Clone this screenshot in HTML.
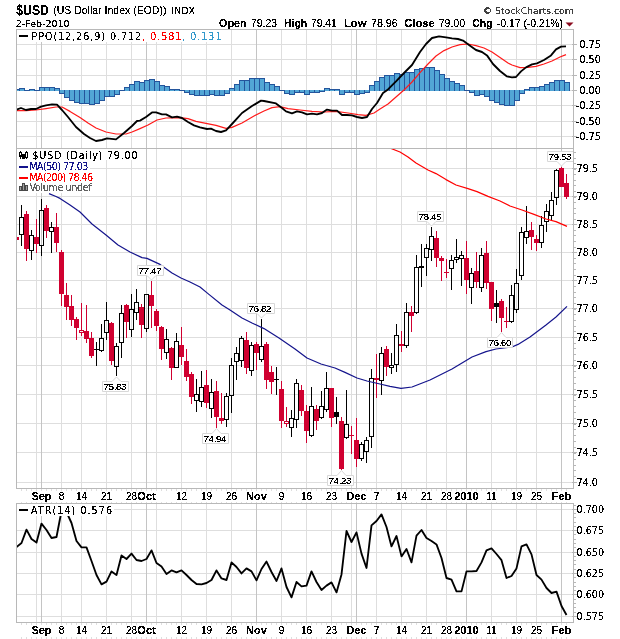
<!DOCTYPE html>
<html><head><meta charset="utf-8"><style>html,body{margin:0;padding:0;background:#fff;width:620px;height:639px;overflow:hidden}svg{display:block}</style></head>
<body><svg width="620" height="639" viewBox="0 0 620 639" shape-rendering="crispEdges">
<defs><clipPath id="c1"><rect x="17" y="30" width="556" height="118"/></clipPath><clipPath id="c2"><rect x="17" y="149" width="556" height="339"/></clipPath><clipPath id="c3"><rect x="17" y="504" width="556" height="118"/></clipPath><filter id="crisp" x="-5%" y="-20%" width="110%" height="140%"><feComponentTransfer><feFuncA type="discrete" tableValues="0 0 0 0 1 1 1 1 1 1"/></feComponentTransfer></filter></defs>
<rect width="620" height="639" fill="#fff"/>
<text filter="url(#crisp)" x="16.2" y="14.8" font-family="Liberation Sans, Arial, sans-serif" font-size="14.2" font-weight="bold" textLength="32.8" lengthAdjust="spacingAndGlyphs">$USD</text>
<text filter="url(#crisp)" x="53.2" y="14.3" font-family="Liberation Sans, Arial, sans-serif" font-size="10.5">(US Dollar Index (EOD))</text>
<text filter="url(#crisp)" x="171.4" y="14.3" font-family="DejaVu Sans, Verdana, sans-serif" font-size="8.5" textLength="23.6" lengthAdjust="spacingAndGlyphs">INDX</text>
<text filter="url(#crisp)" x="15.8" y="26.6" font-family="DejaVu Sans, Verdana, sans-serif" font-size="9" textLength="53.8" lengthAdjust="spacingAndGlyphs">2-Feb-2010</text>
<text filter="url(#crisp)" x="482.8" y="13.7" font-family="DejaVu Sans, Verdana, sans-serif" font-size="9.2" fill="#404040" textLength="91" lengthAdjust="spacingAndGlyphs">© StockCharts.com</text>
<text filter="url(#crisp)" x="218.9" y="26.5" font-family="Liberation Sans, Arial, sans-serif" font-size="11" font-weight="bold" textLength="27.9" lengthAdjust="spacingAndGlyphs">Open</text>
<text filter="url(#crisp)" x="251.1" y="26.5" font-family="Liberation Sans, Arial, sans-serif" font-size="10.5" textLength="25.8" lengthAdjust="spacingAndGlyphs">79.23</text>
<text filter="url(#crisp)" x="283.9" y="26.5" font-family="Liberation Sans, Arial, sans-serif" font-size="11" font-weight="bold" textLength="23.4" lengthAdjust="spacingAndGlyphs">High</text>
<text filter="url(#crisp)" x="311" y="26.5" font-family="Liberation Sans, Arial, sans-serif" font-size="10.5" textLength="25.8" lengthAdjust="spacingAndGlyphs">79.41</text>
<text filter="url(#crisp)" x="343.9" y="26.5" font-family="Liberation Sans, Arial, sans-serif" font-size="11" font-weight="bold" textLength="22.6" lengthAdjust="spacingAndGlyphs">Low</text>
<text filter="url(#crisp)" x="371" y="26.5" font-family="Liberation Sans, Arial, sans-serif" font-size="10.5" textLength="26.6" lengthAdjust="spacingAndGlyphs">78.96</text>
<text filter="url(#crisp)" x="404.2" y="26.5" font-family="Liberation Sans, Arial, sans-serif" font-size="11" font-weight="bold" textLength="30.6" lengthAdjust="spacingAndGlyphs">Close</text>
<text filter="url(#crisp)" x="438.7" y="26.5" font-family="Liberation Sans, Arial, sans-serif" font-size="10.5" textLength="26.3" lengthAdjust="spacingAndGlyphs">79.00</text>
<text filter="url(#crisp)" x="472.3" y="26.5" font-family="Liberation Sans, Arial, sans-serif" font-size="11" font-weight="bold" textLength="20.3" lengthAdjust="spacingAndGlyphs">Chg</text>
<text filter="url(#crisp)" x="497" y="26.5" font-family="Liberation Sans, Arial, sans-serif" font-size="10.5" textLength="66.0" lengthAdjust="spacingAndGlyphs">-0.17 (-0.21%)</text>
<path d="M565.5 22.5 h8 l-4 4 z" fill="#8b0a1e" shape-rendering="auto"/>
<line x1="16.5" x2="573.5" y1="44.5" y2="44.5" stroke="#dedede"/>
<line x1="16.5" x2="573.5" y1="59.5" y2="59.5" stroke="#dedede"/>
<line x1="16.5" x2="573.5" y1="75.5" y2="75.5" stroke="#dedede"/>
<line x1="16.5" x2="573.5" y1="90.5" y2="90.5" stroke="#dedede"/>
<line x1="16.5" x2="573.5" y1="105.5" y2="105.5" stroke="#dedede"/>
<line x1="16.5" x2="573.5" y1="121.5" y2="121.5" stroke="#dedede"/>
<line x1="16.5" x2="573.5" y1="136.5" y2="136.5" stroke="#dedede"/>
<line x1="36.5" x2="36.5" y1="29.5" y2="148.5" stroke="#dedede"/>
<line x1="61.5" x2="61.5" y1="29.5" y2="148.5" stroke="#dedede"/>
<line x1="81.5" x2="81.5" y1="29.5" y2="148.5" stroke="#dedede"/>
<line x1="106.5" x2="106.5" y1="29.5" y2="148.5" stroke="#dedede"/>
<line x1="131.5" x2="131.5" y1="29.5" y2="148.5" stroke="#dedede"/>
<line x1="156.5" x2="156.5" y1="29.5" y2="148.5" stroke="#dedede"/>
<line x1="181.5" x2="181.5" y1="29.5" y2="148.5" stroke="#dedede"/>
<line x1="206.5" x2="206.5" y1="29.5" y2="148.5" stroke="#dedede"/>
<line x1="231.5" x2="231.5" y1="29.5" y2="148.5" stroke="#dedede"/>
<line x1="281.5" x2="281.5" y1="29.5" y2="148.5" stroke="#dedede"/>
<line x1="306.5" x2="306.5" y1="29.5" y2="148.5" stroke="#dedede"/>
<line x1="331.5" x2="331.5" y1="29.5" y2="148.5" stroke="#dedede"/>
<line x1="351.5" x2="351.5" y1="29.5" y2="148.5" stroke="#dedede"/>
<line x1="376.5" x2="376.5" y1="29.5" y2="148.5" stroke="#dedede"/>
<line x1="401.5" x2="401.5" y1="29.5" y2="148.5" stroke="#dedede"/>
<line x1="426.5" x2="426.5" y1="29.5" y2="148.5" stroke="#dedede"/>
<line x1="446.5" x2="446.5" y1="29.5" y2="148.5" stroke="#dedede"/>
<line x1="491.5" x2="491.5" y1="29.5" y2="148.5" stroke="#dedede"/>
<line x1="516.5" x2="516.5" y1="29.5" y2="148.5" stroke="#dedede"/>
<line x1="536.5" x2="536.5" y1="29.5" y2="148.5" stroke="#dedede"/>
<line x1="41.5" x2="41.5" y1="29.5" y2="148.5" stroke="#c4c4c4"/>
<line x1="146.5" x2="146.5" y1="29.5" y2="148.5" stroke="#c4c4c4"/>
<line x1="256.5" x2="256.5" y1="29.5" y2="148.5" stroke="#c4c4c4"/>
<line x1="356.5" x2="356.5" y1="29.5" y2="148.5" stroke="#c4c4c4"/>
<line x1="466.5" x2="466.5" y1="29.5" y2="148.5" stroke="#c4c4c4"/>
<line x1="561.5" x2="561.5" y1="29.5" y2="148.5" stroke="#c4c4c4"/>
<line x1="16.5" x2="573.5" y1="482.5" y2="482.5" stroke="#dedede"/>
<line x1="16.5" x2="573.5" y1="452.5" y2="452.5" stroke="#dedede"/>
<line x1="16.5" x2="573.5" y1="423.5" y2="423.5" stroke="#dedede"/>
<line x1="16.5" x2="573.5" y1="394.5" y2="394.5" stroke="#dedede"/>
<line x1="16.5" x2="573.5" y1="365.5" y2="365.5" stroke="#dedede"/>
<line x1="16.5" x2="573.5" y1="337.5" y2="337.5" stroke="#dedede"/>
<line x1="16.5" x2="573.5" y1="308.5" y2="308.5" stroke="#dedede"/>
<line x1="16.5" x2="573.5" y1="280.5" y2="280.5" stroke="#dedede"/>
<line x1="16.5" x2="573.5" y1="252.5" y2="252.5" stroke="#dedede"/>
<line x1="16.5" x2="573.5" y1="224.5" y2="224.5" stroke="#dedede"/>
<line x1="16.5" x2="573.5" y1="196.5" y2="196.5" stroke="#dedede"/>
<line x1="16.5" x2="573.5" y1="168.5" y2="168.5" stroke="#dedede"/>
<line x1="36.5" x2="36.5" y1="148.5" y2="488.5" stroke="#dedede"/>
<line x1="61.5" x2="61.5" y1="148.5" y2="488.5" stroke="#dedede"/>
<line x1="81.5" x2="81.5" y1="148.5" y2="488.5" stroke="#dedede"/>
<line x1="106.5" x2="106.5" y1="148.5" y2="488.5" stroke="#dedede"/>
<line x1="131.5" x2="131.5" y1="148.5" y2="488.5" stroke="#dedede"/>
<line x1="156.5" x2="156.5" y1="148.5" y2="488.5" stroke="#dedede"/>
<line x1="181.5" x2="181.5" y1="148.5" y2="488.5" stroke="#dedede"/>
<line x1="206.5" x2="206.5" y1="148.5" y2="488.5" stroke="#dedede"/>
<line x1="231.5" x2="231.5" y1="148.5" y2="488.5" stroke="#dedede"/>
<line x1="281.5" x2="281.5" y1="148.5" y2="488.5" stroke="#dedede"/>
<line x1="306.5" x2="306.5" y1="148.5" y2="488.5" stroke="#dedede"/>
<line x1="331.5" x2="331.5" y1="148.5" y2="488.5" stroke="#dedede"/>
<line x1="351.5" x2="351.5" y1="148.5" y2="488.5" stroke="#dedede"/>
<line x1="376.5" x2="376.5" y1="148.5" y2="488.5" stroke="#dedede"/>
<line x1="401.5" x2="401.5" y1="148.5" y2="488.5" stroke="#dedede"/>
<line x1="426.5" x2="426.5" y1="148.5" y2="488.5" stroke="#dedede"/>
<line x1="446.5" x2="446.5" y1="148.5" y2="488.5" stroke="#dedede"/>
<line x1="491.5" x2="491.5" y1="148.5" y2="488.5" stroke="#dedede"/>
<line x1="516.5" x2="516.5" y1="148.5" y2="488.5" stroke="#dedede"/>
<line x1="536.5" x2="536.5" y1="148.5" y2="488.5" stroke="#dedede"/>
<line x1="41.5" x2="41.5" y1="148.5" y2="488.5" stroke="#c4c4c4"/>
<line x1="146.5" x2="146.5" y1="148.5" y2="488.5" stroke="#c4c4c4"/>
<line x1="256.5" x2="256.5" y1="148.5" y2="488.5" stroke="#c4c4c4"/>
<line x1="356.5" x2="356.5" y1="148.5" y2="488.5" stroke="#c4c4c4"/>
<line x1="466.5" x2="466.5" y1="148.5" y2="488.5" stroke="#c4c4c4"/>
<line x1="561.5" x2="561.5" y1="148.5" y2="488.5" stroke="#c4c4c4"/>
<line x1="16.5" x2="573.5" y1="616.5" y2="616.5" stroke="#dedede"/>
<line x1="16.5" x2="573.5" y1="594.5" y2="594.5" stroke="#dedede"/>
<line x1="16.5" x2="573.5" y1="573.5" y2="573.5" stroke="#dedede"/>
<line x1="16.5" x2="573.5" y1="552.5" y2="552.5" stroke="#dedede"/>
<line x1="16.5" x2="573.5" y1="530.5" y2="530.5" stroke="#dedede"/>
<line x1="16.5" x2="573.5" y1="509.5" y2="509.5" stroke="#dedede"/>
<line x1="36.5" x2="36.5" y1="503.5" y2="622.5" stroke="#dedede"/>
<line x1="61.5" x2="61.5" y1="503.5" y2="622.5" stroke="#dedede"/>
<line x1="81.5" x2="81.5" y1="503.5" y2="622.5" stroke="#dedede"/>
<line x1="106.5" x2="106.5" y1="503.5" y2="622.5" stroke="#dedede"/>
<line x1="131.5" x2="131.5" y1="503.5" y2="622.5" stroke="#dedede"/>
<line x1="156.5" x2="156.5" y1="503.5" y2="622.5" stroke="#dedede"/>
<line x1="181.5" x2="181.5" y1="503.5" y2="622.5" stroke="#dedede"/>
<line x1="206.5" x2="206.5" y1="503.5" y2="622.5" stroke="#dedede"/>
<line x1="231.5" x2="231.5" y1="503.5" y2="622.5" stroke="#dedede"/>
<line x1="281.5" x2="281.5" y1="503.5" y2="622.5" stroke="#dedede"/>
<line x1="306.5" x2="306.5" y1="503.5" y2="622.5" stroke="#dedede"/>
<line x1="331.5" x2="331.5" y1="503.5" y2="622.5" stroke="#dedede"/>
<line x1="351.5" x2="351.5" y1="503.5" y2="622.5" stroke="#dedede"/>
<line x1="376.5" x2="376.5" y1="503.5" y2="622.5" stroke="#dedede"/>
<line x1="401.5" x2="401.5" y1="503.5" y2="622.5" stroke="#dedede"/>
<line x1="426.5" x2="426.5" y1="503.5" y2="622.5" stroke="#dedede"/>
<line x1="446.5" x2="446.5" y1="503.5" y2="622.5" stroke="#dedede"/>
<line x1="491.5" x2="491.5" y1="503.5" y2="622.5" stroke="#dedede"/>
<line x1="516.5" x2="516.5" y1="503.5" y2="622.5" stroke="#dedede"/>
<line x1="536.5" x2="536.5" y1="503.5" y2="622.5" stroke="#dedede"/>
<line x1="41.5" x2="41.5" y1="503.5" y2="622.5" stroke="#c4c4c4"/>
<line x1="146.5" x2="146.5" y1="503.5" y2="622.5" stroke="#c4c4c4"/>
<line x1="256.5" x2="256.5" y1="503.5" y2="622.5" stroke="#c4c4c4"/>
<line x1="356.5" x2="356.5" y1="503.5" y2="622.5" stroke="#c4c4c4"/>
<line x1="466.5" x2="466.5" y1="503.5" y2="622.5" stroke="#c4c4c4"/>
<line x1="561.5" x2="561.5" y1="503.5" y2="622.5" stroke="#c4c4c4"/>
<line x1="21.5" x2="21.5" y1="488.5" y2="490.5" stroke="#dedede"/>
<line x1="21.5" x2="21.5" y1="501.5" y2="503.5" stroke="#dedede"/>
<line x1="21.5" x2="21.5" y1="622.5" y2="624.5" stroke="#dedede"/>
<line x1="21.5" x2="21.5" y1="637" y2="639" stroke="#dedede"/>
<line x1="26.5" x2="26.5" y1="488.5" y2="490.5" stroke="#dedede"/>
<line x1="26.5" x2="26.5" y1="501.5" y2="503.5" stroke="#dedede"/>
<line x1="26.5" x2="26.5" y1="622.5" y2="624.5" stroke="#dedede"/>
<line x1="26.5" x2="26.5" y1="637" y2="639" stroke="#dedede"/>
<line x1="31.5" x2="31.5" y1="488.5" y2="490.5" stroke="#dedede"/>
<line x1="31.5" x2="31.5" y1="501.5" y2="503.5" stroke="#dedede"/>
<line x1="31.5" x2="31.5" y1="622.5" y2="624.5" stroke="#dedede"/>
<line x1="31.5" x2="31.5" y1="637" y2="639" stroke="#dedede"/>
<line x1="36.5" x2="36.5" y1="488.5" y2="490.5" stroke="#dedede"/>
<line x1="36.5" x2="36.5" y1="501.5" y2="503.5" stroke="#dedede"/>
<line x1="36.5" x2="36.5" y1="622.5" y2="624.5" stroke="#dedede"/>
<line x1="36.5" x2="36.5" y1="637" y2="639" stroke="#dedede"/>
<line x1="41.5" x2="41.5" y1="488.5" y2="490.5" stroke="#dedede"/>
<line x1="41.5" x2="41.5" y1="501.5" y2="503.5" stroke="#dedede"/>
<line x1="41.5" x2="41.5" y1="622.5" y2="624.5" stroke="#dedede"/>
<line x1="41.5" x2="41.5" y1="637" y2="639" stroke="#dedede"/>
<line x1="46.5" x2="46.5" y1="488.5" y2="490.5" stroke="#dedede"/>
<line x1="46.5" x2="46.5" y1="501.5" y2="503.5" stroke="#dedede"/>
<line x1="46.5" x2="46.5" y1="622.5" y2="624.5" stroke="#dedede"/>
<line x1="46.5" x2="46.5" y1="637" y2="639" stroke="#dedede"/>
<line x1="51.5" x2="51.5" y1="488.5" y2="490.5" stroke="#dedede"/>
<line x1="51.5" x2="51.5" y1="501.5" y2="503.5" stroke="#dedede"/>
<line x1="51.5" x2="51.5" y1="622.5" y2="624.5" stroke="#dedede"/>
<line x1="51.5" x2="51.5" y1="637" y2="639" stroke="#dedede"/>
<line x1="56.5" x2="56.5" y1="488.5" y2="490.5" stroke="#dedede"/>
<line x1="56.5" x2="56.5" y1="501.5" y2="503.5" stroke="#dedede"/>
<line x1="56.5" x2="56.5" y1="622.5" y2="624.5" stroke="#dedede"/>
<line x1="56.5" x2="56.5" y1="637" y2="639" stroke="#dedede"/>
<line x1="61.5" x2="61.5" y1="488.5" y2="490.5" stroke="#dedede"/>
<line x1="61.5" x2="61.5" y1="501.5" y2="503.5" stroke="#dedede"/>
<line x1="61.5" x2="61.5" y1="622.5" y2="624.5" stroke="#dedede"/>
<line x1="61.5" x2="61.5" y1="637" y2="639" stroke="#dedede"/>
<line x1="66.5" x2="66.5" y1="488.5" y2="490.5" stroke="#dedede"/>
<line x1="66.5" x2="66.5" y1="501.5" y2="503.5" stroke="#dedede"/>
<line x1="66.5" x2="66.5" y1="622.5" y2="624.5" stroke="#dedede"/>
<line x1="66.5" x2="66.5" y1="637" y2="639" stroke="#dedede"/>
<line x1="71.5" x2="71.5" y1="488.5" y2="490.5" stroke="#dedede"/>
<line x1="71.5" x2="71.5" y1="501.5" y2="503.5" stroke="#dedede"/>
<line x1="71.5" x2="71.5" y1="622.5" y2="624.5" stroke="#dedede"/>
<line x1="71.5" x2="71.5" y1="637" y2="639" stroke="#dedede"/>
<line x1="76.5" x2="76.5" y1="488.5" y2="490.5" stroke="#dedede"/>
<line x1="76.5" x2="76.5" y1="501.5" y2="503.5" stroke="#dedede"/>
<line x1="76.5" x2="76.5" y1="622.5" y2="624.5" stroke="#dedede"/>
<line x1="76.5" x2="76.5" y1="637" y2="639" stroke="#dedede"/>
<line x1="81.5" x2="81.5" y1="488.5" y2="490.5" stroke="#dedede"/>
<line x1="81.5" x2="81.5" y1="501.5" y2="503.5" stroke="#dedede"/>
<line x1="81.5" x2="81.5" y1="622.5" y2="624.5" stroke="#dedede"/>
<line x1="81.5" x2="81.5" y1="637" y2="639" stroke="#dedede"/>
<line x1="86.5" x2="86.5" y1="488.5" y2="490.5" stroke="#dedede"/>
<line x1="86.5" x2="86.5" y1="501.5" y2="503.5" stroke="#dedede"/>
<line x1="86.5" x2="86.5" y1="622.5" y2="624.5" stroke="#dedede"/>
<line x1="86.5" x2="86.5" y1="637" y2="639" stroke="#dedede"/>
<line x1="91.5" x2="91.5" y1="488.5" y2="490.5" stroke="#dedede"/>
<line x1="91.5" x2="91.5" y1="501.5" y2="503.5" stroke="#dedede"/>
<line x1="91.5" x2="91.5" y1="622.5" y2="624.5" stroke="#dedede"/>
<line x1="91.5" x2="91.5" y1="637" y2="639" stroke="#dedede"/>
<line x1="96.5" x2="96.5" y1="488.5" y2="490.5" stroke="#dedede"/>
<line x1="96.5" x2="96.5" y1="501.5" y2="503.5" stroke="#dedede"/>
<line x1="96.5" x2="96.5" y1="622.5" y2="624.5" stroke="#dedede"/>
<line x1="96.5" x2="96.5" y1="637" y2="639" stroke="#dedede"/>
<line x1="101.5" x2="101.5" y1="488.5" y2="490.5" stroke="#dedede"/>
<line x1="101.5" x2="101.5" y1="501.5" y2="503.5" stroke="#dedede"/>
<line x1="101.5" x2="101.5" y1="622.5" y2="624.5" stroke="#dedede"/>
<line x1="101.5" x2="101.5" y1="637" y2="639" stroke="#dedede"/>
<line x1="106.5" x2="106.5" y1="488.5" y2="490.5" stroke="#dedede"/>
<line x1="106.5" x2="106.5" y1="501.5" y2="503.5" stroke="#dedede"/>
<line x1="106.5" x2="106.5" y1="622.5" y2="624.5" stroke="#dedede"/>
<line x1="106.5" x2="106.5" y1="637" y2="639" stroke="#dedede"/>
<line x1="111.5" x2="111.5" y1="488.5" y2="490.5" stroke="#dedede"/>
<line x1="111.5" x2="111.5" y1="501.5" y2="503.5" stroke="#dedede"/>
<line x1="111.5" x2="111.5" y1="622.5" y2="624.5" stroke="#dedede"/>
<line x1="111.5" x2="111.5" y1="637" y2="639" stroke="#dedede"/>
<line x1="116.5" x2="116.5" y1="488.5" y2="490.5" stroke="#dedede"/>
<line x1="116.5" x2="116.5" y1="501.5" y2="503.5" stroke="#dedede"/>
<line x1="116.5" x2="116.5" y1="622.5" y2="624.5" stroke="#dedede"/>
<line x1="116.5" x2="116.5" y1="637" y2="639" stroke="#dedede"/>
<line x1="121.5" x2="121.5" y1="488.5" y2="490.5" stroke="#dedede"/>
<line x1="121.5" x2="121.5" y1="501.5" y2="503.5" stroke="#dedede"/>
<line x1="121.5" x2="121.5" y1="622.5" y2="624.5" stroke="#dedede"/>
<line x1="121.5" x2="121.5" y1="637" y2="639" stroke="#dedede"/>
<line x1="126.5" x2="126.5" y1="488.5" y2="490.5" stroke="#dedede"/>
<line x1="126.5" x2="126.5" y1="501.5" y2="503.5" stroke="#dedede"/>
<line x1="126.5" x2="126.5" y1="622.5" y2="624.5" stroke="#dedede"/>
<line x1="126.5" x2="126.5" y1="637" y2="639" stroke="#dedede"/>
<line x1="131.5" x2="131.5" y1="488.5" y2="490.5" stroke="#dedede"/>
<line x1="131.5" x2="131.5" y1="501.5" y2="503.5" stroke="#dedede"/>
<line x1="131.5" x2="131.5" y1="622.5" y2="624.5" stroke="#dedede"/>
<line x1="131.5" x2="131.5" y1="637" y2="639" stroke="#dedede"/>
<line x1="136.5" x2="136.5" y1="488.5" y2="490.5" stroke="#dedede"/>
<line x1="136.5" x2="136.5" y1="501.5" y2="503.5" stroke="#dedede"/>
<line x1="136.5" x2="136.5" y1="622.5" y2="624.5" stroke="#dedede"/>
<line x1="136.5" x2="136.5" y1="637" y2="639" stroke="#dedede"/>
<line x1="141.5" x2="141.5" y1="488.5" y2="490.5" stroke="#dedede"/>
<line x1="141.5" x2="141.5" y1="501.5" y2="503.5" stroke="#dedede"/>
<line x1="141.5" x2="141.5" y1="622.5" y2="624.5" stroke="#dedede"/>
<line x1="141.5" x2="141.5" y1="637" y2="639" stroke="#dedede"/>
<line x1="146.5" x2="146.5" y1="488.5" y2="490.5" stroke="#dedede"/>
<line x1="146.5" x2="146.5" y1="501.5" y2="503.5" stroke="#dedede"/>
<line x1="146.5" x2="146.5" y1="622.5" y2="624.5" stroke="#dedede"/>
<line x1="146.5" x2="146.5" y1="637" y2="639" stroke="#dedede"/>
<line x1="151.5" x2="151.5" y1="488.5" y2="490.5" stroke="#dedede"/>
<line x1="151.5" x2="151.5" y1="501.5" y2="503.5" stroke="#dedede"/>
<line x1="151.5" x2="151.5" y1="622.5" y2="624.5" stroke="#dedede"/>
<line x1="151.5" x2="151.5" y1="637" y2="639" stroke="#dedede"/>
<line x1="156.5" x2="156.5" y1="488.5" y2="490.5" stroke="#dedede"/>
<line x1="156.5" x2="156.5" y1="501.5" y2="503.5" stroke="#dedede"/>
<line x1="156.5" x2="156.5" y1="622.5" y2="624.5" stroke="#dedede"/>
<line x1="156.5" x2="156.5" y1="637" y2="639" stroke="#dedede"/>
<line x1="161.5" x2="161.5" y1="488.5" y2="490.5" stroke="#dedede"/>
<line x1="161.5" x2="161.5" y1="501.5" y2="503.5" stroke="#dedede"/>
<line x1="161.5" x2="161.5" y1="622.5" y2="624.5" stroke="#dedede"/>
<line x1="161.5" x2="161.5" y1="637" y2="639" stroke="#dedede"/>
<line x1="166.5" x2="166.5" y1="488.5" y2="490.5" stroke="#dedede"/>
<line x1="166.5" x2="166.5" y1="501.5" y2="503.5" stroke="#dedede"/>
<line x1="166.5" x2="166.5" y1="622.5" y2="624.5" stroke="#dedede"/>
<line x1="166.5" x2="166.5" y1="637" y2="639" stroke="#dedede"/>
<line x1="171.5" x2="171.5" y1="488.5" y2="490.5" stroke="#dedede"/>
<line x1="171.5" x2="171.5" y1="501.5" y2="503.5" stroke="#dedede"/>
<line x1="171.5" x2="171.5" y1="622.5" y2="624.5" stroke="#dedede"/>
<line x1="171.5" x2="171.5" y1="637" y2="639" stroke="#dedede"/>
<line x1="176.5" x2="176.5" y1="488.5" y2="490.5" stroke="#dedede"/>
<line x1="176.5" x2="176.5" y1="501.5" y2="503.5" stroke="#dedede"/>
<line x1="176.5" x2="176.5" y1="622.5" y2="624.5" stroke="#dedede"/>
<line x1="176.5" x2="176.5" y1="637" y2="639" stroke="#dedede"/>
<line x1="181.5" x2="181.5" y1="488.5" y2="490.5" stroke="#dedede"/>
<line x1="181.5" x2="181.5" y1="501.5" y2="503.5" stroke="#dedede"/>
<line x1="181.5" x2="181.5" y1="622.5" y2="624.5" stroke="#dedede"/>
<line x1="181.5" x2="181.5" y1="637" y2="639" stroke="#dedede"/>
<line x1="186.5" x2="186.5" y1="488.5" y2="490.5" stroke="#dedede"/>
<line x1="186.5" x2="186.5" y1="501.5" y2="503.5" stroke="#dedede"/>
<line x1="186.5" x2="186.5" y1="622.5" y2="624.5" stroke="#dedede"/>
<line x1="186.5" x2="186.5" y1="637" y2="639" stroke="#dedede"/>
<line x1="191.5" x2="191.5" y1="488.5" y2="490.5" stroke="#dedede"/>
<line x1="191.5" x2="191.5" y1="501.5" y2="503.5" stroke="#dedede"/>
<line x1="191.5" x2="191.5" y1="622.5" y2="624.5" stroke="#dedede"/>
<line x1="191.5" x2="191.5" y1="637" y2="639" stroke="#dedede"/>
<line x1="196.5" x2="196.5" y1="488.5" y2="490.5" stroke="#dedede"/>
<line x1="196.5" x2="196.5" y1="501.5" y2="503.5" stroke="#dedede"/>
<line x1="196.5" x2="196.5" y1="622.5" y2="624.5" stroke="#dedede"/>
<line x1="196.5" x2="196.5" y1="637" y2="639" stroke="#dedede"/>
<line x1="201.5" x2="201.5" y1="488.5" y2="490.5" stroke="#dedede"/>
<line x1="201.5" x2="201.5" y1="501.5" y2="503.5" stroke="#dedede"/>
<line x1="201.5" x2="201.5" y1="622.5" y2="624.5" stroke="#dedede"/>
<line x1="201.5" x2="201.5" y1="637" y2="639" stroke="#dedede"/>
<line x1="206.5" x2="206.5" y1="488.5" y2="490.5" stroke="#dedede"/>
<line x1="206.5" x2="206.5" y1="501.5" y2="503.5" stroke="#dedede"/>
<line x1="206.5" x2="206.5" y1="622.5" y2="624.5" stroke="#dedede"/>
<line x1="206.5" x2="206.5" y1="637" y2="639" stroke="#dedede"/>
<line x1="211.5" x2="211.5" y1="488.5" y2="490.5" stroke="#dedede"/>
<line x1="211.5" x2="211.5" y1="501.5" y2="503.5" stroke="#dedede"/>
<line x1="211.5" x2="211.5" y1="622.5" y2="624.5" stroke="#dedede"/>
<line x1="211.5" x2="211.5" y1="637" y2="639" stroke="#dedede"/>
<line x1="216.5" x2="216.5" y1="488.5" y2="490.5" stroke="#dedede"/>
<line x1="216.5" x2="216.5" y1="501.5" y2="503.5" stroke="#dedede"/>
<line x1="216.5" x2="216.5" y1="622.5" y2="624.5" stroke="#dedede"/>
<line x1="216.5" x2="216.5" y1="637" y2="639" stroke="#dedede"/>
<line x1="221.5" x2="221.5" y1="488.5" y2="490.5" stroke="#dedede"/>
<line x1="221.5" x2="221.5" y1="501.5" y2="503.5" stroke="#dedede"/>
<line x1="221.5" x2="221.5" y1="622.5" y2="624.5" stroke="#dedede"/>
<line x1="221.5" x2="221.5" y1="637" y2="639" stroke="#dedede"/>
<line x1="226.5" x2="226.5" y1="488.5" y2="490.5" stroke="#dedede"/>
<line x1="226.5" x2="226.5" y1="501.5" y2="503.5" stroke="#dedede"/>
<line x1="226.5" x2="226.5" y1="622.5" y2="624.5" stroke="#dedede"/>
<line x1="226.5" x2="226.5" y1="637" y2="639" stroke="#dedede"/>
<line x1="231.5" x2="231.5" y1="488.5" y2="490.5" stroke="#dedede"/>
<line x1="231.5" x2="231.5" y1="501.5" y2="503.5" stroke="#dedede"/>
<line x1="231.5" x2="231.5" y1="622.5" y2="624.5" stroke="#dedede"/>
<line x1="231.5" x2="231.5" y1="637" y2="639" stroke="#dedede"/>
<line x1="236.5" x2="236.5" y1="488.5" y2="490.5" stroke="#dedede"/>
<line x1="236.5" x2="236.5" y1="501.5" y2="503.5" stroke="#dedede"/>
<line x1="236.5" x2="236.5" y1="622.5" y2="624.5" stroke="#dedede"/>
<line x1="236.5" x2="236.5" y1="637" y2="639" stroke="#dedede"/>
<line x1="241.5" x2="241.5" y1="488.5" y2="490.5" stroke="#dedede"/>
<line x1="241.5" x2="241.5" y1="501.5" y2="503.5" stroke="#dedede"/>
<line x1="241.5" x2="241.5" y1="622.5" y2="624.5" stroke="#dedede"/>
<line x1="241.5" x2="241.5" y1="637" y2="639" stroke="#dedede"/>
<line x1="246.5" x2="246.5" y1="488.5" y2="490.5" stroke="#dedede"/>
<line x1="246.5" x2="246.5" y1="501.5" y2="503.5" stroke="#dedede"/>
<line x1="246.5" x2="246.5" y1="622.5" y2="624.5" stroke="#dedede"/>
<line x1="246.5" x2="246.5" y1="637" y2="639" stroke="#dedede"/>
<line x1="251.5" x2="251.5" y1="488.5" y2="490.5" stroke="#dedede"/>
<line x1="251.5" x2="251.5" y1="501.5" y2="503.5" stroke="#dedede"/>
<line x1="251.5" x2="251.5" y1="622.5" y2="624.5" stroke="#dedede"/>
<line x1="251.5" x2="251.5" y1="637" y2="639" stroke="#dedede"/>
<line x1="256.5" x2="256.5" y1="488.5" y2="490.5" stroke="#dedede"/>
<line x1="256.5" x2="256.5" y1="501.5" y2="503.5" stroke="#dedede"/>
<line x1="256.5" x2="256.5" y1="622.5" y2="624.5" stroke="#dedede"/>
<line x1="256.5" x2="256.5" y1="637" y2="639" stroke="#dedede"/>
<line x1="261.5" x2="261.5" y1="488.5" y2="490.5" stroke="#dedede"/>
<line x1="261.5" x2="261.5" y1="501.5" y2="503.5" stroke="#dedede"/>
<line x1="261.5" x2="261.5" y1="622.5" y2="624.5" stroke="#dedede"/>
<line x1="261.5" x2="261.5" y1="637" y2="639" stroke="#dedede"/>
<line x1="266.5" x2="266.5" y1="488.5" y2="490.5" stroke="#dedede"/>
<line x1="266.5" x2="266.5" y1="501.5" y2="503.5" stroke="#dedede"/>
<line x1="266.5" x2="266.5" y1="622.5" y2="624.5" stroke="#dedede"/>
<line x1="266.5" x2="266.5" y1="637" y2="639" stroke="#dedede"/>
<line x1="271.5" x2="271.5" y1="488.5" y2="490.5" stroke="#dedede"/>
<line x1="271.5" x2="271.5" y1="501.5" y2="503.5" stroke="#dedede"/>
<line x1="271.5" x2="271.5" y1="622.5" y2="624.5" stroke="#dedede"/>
<line x1="271.5" x2="271.5" y1="637" y2="639" stroke="#dedede"/>
<line x1="276.5" x2="276.5" y1="488.5" y2="490.5" stroke="#dedede"/>
<line x1="276.5" x2="276.5" y1="501.5" y2="503.5" stroke="#dedede"/>
<line x1="276.5" x2="276.5" y1="622.5" y2="624.5" stroke="#dedede"/>
<line x1="276.5" x2="276.5" y1="637" y2="639" stroke="#dedede"/>
<line x1="281.5" x2="281.5" y1="488.5" y2="490.5" stroke="#dedede"/>
<line x1="281.5" x2="281.5" y1="501.5" y2="503.5" stroke="#dedede"/>
<line x1="281.5" x2="281.5" y1="622.5" y2="624.5" stroke="#dedede"/>
<line x1="281.5" x2="281.5" y1="637" y2="639" stroke="#dedede"/>
<line x1="286.5" x2="286.5" y1="488.5" y2="490.5" stroke="#dedede"/>
<line x1="286.5" x2="286.5" y1="501.5" y2="503.5" stroke="#dedede"/>
<line x1="286.5" x2="286.5" y1="622.5" y2="624.5" stroke="#dedede"/>
<line x1="286.5" x2="286.5" y1="637" y2="639" stroke="#dedede"/>
<line x1="291.5" x2="291.5" y1="488.5" y2="490.5" stroke="#dedede"/>
<line x1="291.5" x2="291.5" y1="501.5" y2="503.5" stroke="#dedede"/>
<line x1="291.5" x2="291.5" y1="622.5" y2="624.5" stroke="#dedede"/>
<line x1="291.5" x2="291.5" y1="637" y2="639" stroke="#dedede"/>
<line x1="296.5" x2="296.5" y1="488.5" y2="490.5" stroke="#dedede"/>
<line x1="296.5" x2="296.5" y1="501.5" y2="503.5" stroke="#dedede"/>
<line x1="296.5" x2="296.5" y1="622.5" y2="624.5" stroke="#dedede"/>
<line x1="296.5" x2="296.5" y1="637" y2="639" stroke="#dedede"/>
<line x1="301.5" x2="301.5" y1="488.5" y2="490.5" stroke="#dedede"/>
<line x1="301.5" x2="301.5" y1="501.5" y2="503.5" stroke="#dedede"/>
<line x1="301.5" x2="301.5" y1="622.5" y2="624.5" stroke="#dedede"/>
<line x1="301.5" x2="301.5" y1="637" y2="639" stroke="#dedede"/>
<line x1="306.5" x2="306.5" y1="488.5" y2="490.5" stroke="#dedede"/>
<line x1="306.5" x2="306.5" y1="501.5" y2="503.5" stroke="#dedede"/>
<line x1="306.5" x2="306.5" y1="622.5" y2="624.5" stroke="#dedede"/>
<line x1="306.5" x2="306.5" y1="637" y2="639" stroke="#dedede"/>
<line x1="311.5" x2="311.5" y1="488.5" y2="490.5" stroke="#dedede"/>
<line x1="311.5" x2="311.5" y1="501.5" y2="503.5" stroke="#dedede"/>
<line x1="311.5" x2="311.5" y1="622.5" y2="624.5" stroke="#dedede"/>
<line x1="311.5" x2="311.5" y1="637" y2="639" stroke="#dedede"/>
<line x1="316.5" x2="316.5" y1="488.5" y2="490.5" stroke="#dedede"/>
<line x1="316.5" x2="316.5" y1="501.5" y2="503.5" stroke="#dedede"/>
<line x1="316.5" x2="316.5" y1="622.5" y2="624.5" stroke="#dedede"/>
<line x1="316.5" x2="316.5" y1="637" y2="639" stroke="#dedede"/>
<line x1="321.5" x2="321.5" y1="488.5" y2="490.5" stroke="#dedede"/>
<line x1="321.5" x2="321.5" y1="501.5" y2="503.5" stroke="#dedede"/>
<line x1="321.5" x2="321.5" y1="622.5" y2="624.5" stroke="#dedede"/>
<line x1="321.5" x2="321.5" y1="637" y2="639" stroke="#dedede"/>
<line x1="326.5" x2="326.5" y1="488.5" y2="490.5" stroke="#dedede"/>
<line x1="326.5" x2="326.5" y1="501.5" y2="503.5" stroke="#dedede"/>
<line x1="326.5" x2="326.5" y1="622.5" y2="624.5" stroke="#dedede"/>
<line x1="326.5" x2="326.5" y1="637" y2="639" stroke="#dedede"/>
<line x1="331.5" x2="331.5" y1="488.5" y2="490.5" stroke="#dedede"/>
<line x1="331.5" x2="331.5" y1="501.5" y2="503.5" stroke="#dedede"/>
<line x1="331.5" x2="331.5" y1="622.5" y2="624.5" stroke="#dedede"/>
<line x1="331.5" x2="331.5" y1="637" y2="639" stroke="#dedede"/>
<line x1="336.5" x2="336.5" y1="488.5" y2="490.5" stroke="#dedede"/>
<line x1="336.5" x2="336.5" y1="501.5" y2="503.5" stroke="#dedede"/>
<line x1="336.5" x2="336.5" y1="622.5" y2="624.5" stroke="#dedede"/>
<line x1="336.5" x2="336.5" y1="637" y2="639" stroke="#dedede"/>
<line x1="341.5" x2="341.5" y1="488.5" y2="490.5" stroke="#dedede"/>
<line x1="341.5" x2="341.5" y1="501.5" y2="503.5" stroke="#dedede"/>
<line x1="341.5" x2="341.5" y1="622.5" y2="624.5" stroke="#dedede"/>
<line x1="341.5" x2="341.5" y1="637" y2="639" stroke="#dedede"/>
<line x1="346.5" x2="346.5" y1="488.5" y2="490.5" stroke="#dedede"/>
<line x1="346.5" x2="346.5" y1="501.5" y2="503.5" stroke="#dedede"/>
<line x1="346.5" x2="346.5" y1="622.5" y2="624.5" stroke="#dedede"/>
<line x1="346.5" x2="346.5" y1="637" y2="639" stroke="#dedede"/>
<line x1="351.5" x2="351.5" y1="488.5" y2="490.5" stroke="#dedede"/>
<line x1="351.5" x2="351.5" y1="501.5" y2="503.5" stroke="#dedede"/>
<line x1="351.5" x2="351.5" y1="622.5" y2="624.5" stroke="#dedede"/>
<line x1="351.5" x2="351.5" y1="637" y2="639" stroke="#dedede"/>
<line x1="356.5" x2="356.5" y1="488.5" y2="490.5" stroke="#dedede"/>
<line x1="356.5" x2="356.5" y1="501.5" y2="503.5" stroke="#dedede"/>
<line x1="356.5" x2="356.5" y1="622.5" y2="624.5" stroke="#dedede"/>
<line x1="356.5" x2="356.5" y1="637" y2="639" stroke="#dedede"/>
<line x1="361.5" x2="361.5" y1="488.5" y2="490.5" stroke="#dedede"/>
<line x1="361.5" x2="361.5" y1="501.5" y2="503.5" stroke="#dedede"/>
<line x1="361.5" x2="361.5" y1="622.5" y2="624.5" stroke="#dedede"/>
<line x1="361.5" x2="361.5" y1="637" y2="639" stroke="#dedede"/>
<line x1="366.5" x2="366.5" y1="488.5" y2="490.5" stroke="#dedede"/>
<line x1="366.5" x2="366.5" y1="501.5" y2="503.5" stroke="#dedede"/>
<line x1="366.5" x2="366.5" y1="622.5" y2="624.5" stroke="#dedede"/>
<line x1="366.5" x2="366.5" y1="637" y2="639" stroke="#dedede"/>
<line x1="371.5" x2="371.5" y1="488.5" y2="490.5" stroke="#dedede"/>
<line x1="371.5" x2="371.5" y1="501.5" y2="503.5" stroke="#dedede"/>
<line x1="371.5" x2="371.5" y1="622.5" y2="624.5" stroke="#dedede"/>
<line x1="371.5" x2="371.5" y1="637" y2="639" stroke="#dedede"/>
<line x1="376.5" x2="376.5" y1="488.5" y2="490.5" stroke="#dedede"/>
<line x1="376.5" x2="376.5" y1="501.5" y2="503.5" stroke="#dedede"/>
<line x1="376.5" x2="376.5" y1="622.5" y2="624.5" stroke="#dedede"/>
<line x1="376.5" x2="376.5" y1="637" y2="639" stroke="#dedede"/>
<line x1="381.5" x2="381.5" y1="488.5" y2="490.5" stroke="#dedede"/>
<line x1="381.5" x2="381.5" y1="501.5" y2="503.5" stroke="#dedede"/>
<line x1="381.5" x2="381.5" y1="622.5" y2="624.5" stroke="#dedede"/>
<line x1="381.5" x2="381.5" y1="637" y2="639" stroke="#dedede"/>
<line x1="386.5" x2="386.5" y1="488.5" y2="490.5" stroke="#dedede"/>
<line x1="386.5" x2="386.5" y1="501.5" y2="503.5" stroke="#dedede"/>
<line x1="386.5" x2="386.5" y1="622.5" y2="624.5" stroke="#dedede"/>
<line x1="386.5" x2="386.5" y1="637" y2="639" stroke="#dedede"/>
<line x1="391.5" x2="391.5" y1="488.5" y2="490.5" stroke="#dedede"/>
<line x1="391.5" x2="391.5" y1="501.5" y2="503.5" stroke="#dedede"/>
<line x1="391.5" x2="391.5" y1="622.5" y2="624.5" stroke="#dedede"/>
<line x1="391.5" x2="391.5" y1="637" y2="639" stroke="#dedede"/>
<line x1="396.5" x2="396.5" y1="488.5" y2="490.5" stroke="#dedede"/>
<line x1="396.5" x2="396.5" y1="501.5" y2="503.5" stroke="#dedede"/>
<line x1="396.5" x2="396.5" y1="622.5" y2="624.5" stroke="#dedede"/>
<line x1="396.5" x2="396.5" y1="637" y2="639" stroke="#dedede"/>
<line x1="401.5" x2="401.5" y1="488.5" y2="490.5" stroke="#dedede"/>
<line x1="401.5" x2="401.5" y1="501.5" y2="503.5" stroke="#dedede"/>
<line x1="401.5" x2="401.5" y1="622.5" y2="624.5" stroke="#dedede"/>
<line x1="401.5" x2="401.5" y1="637" y2="639" stroke="#dedede"/>
<line x1="406.5" x2="406.5" y1="488.5" y2="490.5" stroke="#dedede"/>
<line x1="406.5" x2="406.5" y1="501.5" y2="503.5" stroke="#dedede"/>
<line x1="406.5" x2="406.5" y1="622.5" y2="624.5" stroke="#dedede"/>
<line x1="406.5" x2="406.5" y1="637" y2="639" stroke="#dedede"/>
<line x1="411.5" x2="411.5" y1="488.5" y2="490.5" stroke="#dedede"/>
<line x1="411.5" x2="411.5" y1="501.5" y2="503.5" stroke="#dedede"/>
<line x1="411.5" x2="411.5" y1="622.5" y2="624.5" stroke="#dedede"/>
<line x1="411.5" x2="411.5" y1="637" y2="639" stroke="#dedede"/>
<line x1="416.5" x2="416.5" y1="488.5" y2="490.5" stroke="#dedede"/>
<line x1="416.5" x2="416.5" y1="501.5" y2="503.5" stroke="#dedede"/>
<line x1="416.5" x2="416.5" y1="622.5" y2="624.5" stroke="#dedede"/>
<line x1="416.5" x2="416.5" y1="637" y2="639" stroke="#dedede"/>
<line x1="421.5" x2="421.5" y1="488.5" y2="490.5" stroke="#dedede"/>
<line x1="421.5" x2="421.5" y1="501.5" y2="503.5" stroke="#dedede"/>
<line x1="421.5" x2="421.5" y1="622.5" y2="624.5" stroke="#dedede"/>
<line x1="421.5" x2="421.5" y1="637" y2="639" stroke="#dedede"/>
<line x1="426.5" x2="426.5" y1="488.5" y2="490.5" stroke="#dedede"/>
<line x1="426.5" x2="426.5" y1="501.5" y2="503.5" stroke="#dedede"/>
<line x1="426.5" x2="426.5" y1="622.5" y2="624.5" stroke="#dedede"/>
<line x1="426.5" x2="426.5" y1="637" y2="639" stroke="#dedede"/>
<line x1="431.5" x2="431.5" y1="488.5" y2="490.5" stroke="#dedede"/>
<line x1="431.5" x2="431.5" y1="501.5" y2="503.5" stroke="#dedede"/>
<line x1="431.5" x2="431.5" y1="622.5" y2="624.5" stroke="#dedede"/>
<line x1="431.5" x2="431.5" y1="637" y2="639" stroke="#dedede"/>
<line x1="436.5" x2="436.5" y1="488.5" y2="490.5" stroke="#dedede"/>
<line x1="436.5" x2="436.5" y1="501.5" y2="503.5" stroke="#dedede"/>
<line x1="436.5" x2="436.5" y1="622.5" y2="624.5" stroke="#dedede"/>
<line x1="436.5" x2="436.5" y1="637" y2="639" stroke="#dedede"/>
<line x1="441.5" x2="441.5" y1="488.5" y2="490.5" stroke="#dedede"/>
<line x1="441.5" x2="441.5" y1="501.5" y2="503.5" stroke="#dedede"/>
<line x1="441.5" x2="441.5" y1="622.5" y2="624.5" stroke="#dedede"/>
<line x1="441.5" x2="441.5" y1="637" y2="639" stroke="#dedede"/>
<line x1="446.5" x2="446.5" y1="488.5" y2="490.5" stroke="#dedede"/>
<line x1="446.5" x2="446.5" y1="501.5" y2="503.5" stroke="#dedede"/>
<line x1="446.5" x2="446.5" y1="622.5" y2="624.5" stroke="#dedede"/>
<line x1="446.5" x2="446.5" y1="637" y2="639" stroke="#dedede"/>
<line x1="451.5" x2="451.5" y1="488.5" y2="490.5" stroke="#dedede"/>
<line x1="451.5" x2="451.5" y1="501.5" y2="503.5" stroke="#dedede"/>
<line x1="451.5" x2="451.5" y1="622.5" y2="624.5" stroke="#dedede"/>
<line x1="451.5" x2="451.5" y1="637" y2="639" stroke="#dedede"/>
<line x1="456.5" x2="456.5" y1="488.5" y2="490.5" stroke="#dedede"/>
<line x1="456.5" x2="456.5" y1="501.5" y2="503.5" stroke="#dedede"/>
<line x1="456.5" x2="456.5" y1="622.5" y2="624.5" stroke="#dedede"/>
<line x1="456.5" x2="456.5" y1="637" y2="639" stroke="#dedede"/>
<line x1="461.5" x2="461.5" y1="488.5" y2="490.5" stroke="#dedede"/>
<line x1="461.5" x2="461.5" y1="501.5" y2="503.5" stroke="#dedede"/>
<line x1="461.5" x2="461.5" y1="622.5" y2="624.5" stroke="#dedede"/>
<line x1="461.5" x2="461.5" y1="637" y2="639" stroke="#dedede"/>
<line x1="466.5" x2="466.5" y1="488.5" y2="490.5" stroke="#dedede"/>
<line x1="466.5" x2="466.5" y1="501.5" y2="503.5" stroke="#dedede"/>
<line x1="466.5" x2="466.5" y1="622.5" y2="624.5" stroke="#dedede"/>
<line x1="466.5" x2="466.5" y1="637" y2="639" stroke="#dedede"/>
<line x1="471.5" x2="471.5" y1="488.5" y2="490.5" stroke="#dedede"/>
<line x1="471.5" x2="471.5" y1="501.5" y2="503.5" stroke="#dedede"/>
<line x1="471.5" x2="471.5" y1="622.5" y2="624.5" stroke="#dedede"/>
<line x1="471.5" x2="471.5" y1="637" y2="639" stroke="#dedede"/>
<line x1="476.5" x2="476.5" y1="488.5" y2="490.5" stroke="#dedede"/>
<line x1="476.5" x2="476.5" y1="501.5" y2="503.5" stroke="#dedede"/>
<line x1="476.5" x2="476.5" y1="622.5" y2="624.5" stroke="#dedede"/>
<line x1="476.5" x2="476.5" y1="637" y2="639" stroke="#dedede"/>
<line x1="481.5" x2="481.5" y1="488.5" y2="490.5" stroke="#dedede"/>
<line x1="481.5" x2="481.5" y1="501.5" y2="503.5" stroke="#dedede"/>
<line x1="481.5" x2="481.5" y1="622.5" y2="624.5" stroke="#dedede"/>
<line x1="481.5" x2="481.5" y1="637" y2="639" stroke="#dedede"/>
<line x1="486.5" x2="486.5" y1="488.5" y2="490.5" stroke="#dedede"/>
<line x1="486.5" x2="486.5" y1="501.5" y2="503.5" stroke="#dedede"/>
<line x1="486.5" x2="486.5" y1="622.5" y2="624.5" stroke="#dedede"/>
<line x1="486.5" x2="486.5" y1="637" y2="639" stroke="#dedede"/>
<line x1="491.5" x2="491.5" y1="488.5" y2="490.5" stroke="#dedede"/>
<line x1="491.5" x2="491.5" y1="501.5" y2="503.5" stroke="#dedede"/>
<line x1="491.5" x2="491.5" y1="622.5" y2="624.5" stroke="#dedede"/>
<line x1="491.5" x2="491.5" y1="637" y2="639" stroke="#dedede"/>
<line x1="496.5" x2="496.5" y1="488.5" y2="490.5" stroke="#dedede"/>
<line x1="496.5" x2="496.5" y1="501.5" y2="503.5" stroke="#dedede"/>
<line x1="496.5" x2="496.5" y1="622.5" y2="624.5" stroke="#dedede"/>
<line x1="496.5" x2="496.5" y1="637" y2="639" stroke="#dedede"/>
<line x1="501.5" x2="501.5" y1="488.5" y2="490.5" stroke="#dedede"/>
<line x1="501.5" x2="501.5" y1="501.5" y2="503.5" stroke="#dedede"/>
<line x1="501.5" x2="501.5" y1="622.5" y2="624.5" stroke="#dedede"/>
<line x1="501.5" x2="501.5" y1="637" y2="639" stroke="#dedede"/>
<line x1="506.5" x2="506.5" y1="488.5" y2="490.5" stroke="#dedede"/>
<line x1="506.5" x2="506.5" y1="501.5" y2="503.5" stroke="#dedede"/>
<line x1="506.5" x2="506.5" y1="622.5" y2="624.5" stroke="#dedede"/>
<line x1="506.5" x2="506.5" y1="637" y2="639" stroke="#dedede"/>
<line x1="511.5" x2="511.5" y1="488.5" y2="490.5" stroke="#dedede"/>
<line x1="511.5" x2="511.5" y1="501.5" y2="503.5" stroke="#dedede"/>
<line x1="511.5" x2="511.5" y1="622.5" y2="624.5" stroke="#dedede"/>
<line x1="511.5" x2="511.5" y1="637" y2="639" stroke="#dedede"/>
<line x1="516.5" x2="516.5" y1="488.5" y2="490.5" stroke="#dedede"/>
<line x1="516.5" x2="516.5" y1="501.5" y2="503.5" stroke="#dedede"/>
<line x1="516.5" x2="516.5" y1="622.5" y2="624.5" stroke="#dedede"/>
<line x1="516.5" x2="516.5" y1="637" y2="639" stroke="#dedede"/>
<line x1="521.5" x2="521.5" y1="488.5" y2="490.5" stroke="#dedede"/>
<line x1="521.5" x2="521.5" y1="501.5" y2="503.5" stroke="#dedede"/>
<line x1="521.5" x2="521.5" y1="622.5" y2="624.5" stroke="#dedede"/>
<line x1="521.5" x2="521.5" y1="637" y2="639" stroke="#dedede"/>
<line x1="526.5" x2="526.5" y1="488.5" y2="490.5" stroke="#dedede"/>
<line x1="526.5" x2="526.5" y1="501.5" y2="503.5" stroke="#dedede"/>
<line x1="526.5" x2="526.5" y1="622.5" y2="624.5" stroke="#dedede"/>
<line x1="526.5" x2="526.5" y1="637" y2="639" stroke="#dedede"/>
<line x1="531.5" x2="531.5" y1="488.5" y2="490.5" stroke="#dedede"/>
<line x1="531.5" x2="531.5" y1="501.5" y2="503.5" stroke="#dedede"/>
<line x1="531.5" x2="531.5" y1="622.5" y2="624.5" stroke="#dedede"/>
<line x1="531.5" x2="531.5" y1="637" y2="639" stroke="#dedede"/>
<line x1="536.5" x2="536.5" y1="488.5" y2="490.5" stroke="#dedede"/>
<line x1="536.5" x2="536.5" y1="501.5" y2="503.5" stroke="#dedede"/>
<line x1="536.5" x2="536.5" y1="622.5" y2="624.5" stroke="#dedede"/>
<line x1="536.5" x2="536.5" y1="637" y2="639" stroke="#dedede"/>
<line x1="541.5" x2="541.5" y1="488.5" y2="490.5" stroke="#dedede"/>
<line x1="541.5" x2="541.5" y1="501.5" y2="503.5" stroke="#dedede"/>
<line x1="541.5" x2="541.5" y1="622.5" y2="624.5" stroke="#dedede"/>
<line x1="541.5" x2="541.5" y1="637" y2="639" stroke="#dedede"/>
<line x1="546.5" x2="546.5" y1="488.5" y2="490.5" stroke="#dedede"/>
<line x1="546.5" x2="546.5" y1="501.5" y2="503.5" stroke="#dedede"/>
<line x1="546.5" x2="546.5" y1="622.5" y2="624.5" stroke="#dedede"/>
<line x1="546.5" x2="546.5" y1="637" y2="639" stroke="#dedede"/>
<line x1="551.5" x2="551.5" y1="488.5" y2="490.5" stroke="#dedede"/>
<line x1="551.5" x2="551.5" y1="501.5" y2="503.5" stroke="#dedede"/>
<line x1="551.5" x2="551.5" y1="622.5" y2="624.5" stroke="#dedede"/>
<line x1="551.5" x2="551.5" y1="637" y2="639" stroke="#dedede"/>
<line x1="556.5" x2="556.5" y1="488.5" y2="490.5" stroke="#dedede"/>
<line x1="556.5" x2="556.5" y1="501.5" y2="503.5" stroke="#dedede"/>
<line x1="556.5" x2="556.5" y1="622.5" y2="624.5" stroke="#dedede"/>
<line x1="556.5" x2="556.5" y1="637" y2="639" stroke="#dedede"/>
<line x1="561.5" x2="561.5" y1="488.5" y2="490.5" stroke="#dedede"/>
<line x1="561.5" x2="561.5" y1="501.5" y2="503.5" stroke="#dedede"/>
<line x1="561.5" x2="561.5" y1="622.5" y2="624.5" stroke="#dedede"/>
<line x1="561.5" x2="561.5" y1="637" y2="639" stroke="#dedede"/>
<line x1="566.5" x2="566.5" y1="488.5" y2="490.5" stroke="#dedede"/>
<line x1="566.5" x2="566.5" y1="501.5" y2="503.5" stroke="#dedede"/>
<line x1="566.5" x2="566.5" y1="622.5" y2="624.5" stroke="#dedede"/>
<line x1="566.5" x2="566.5" y1="637" y2="639" stroke="#dedede"/>
<g clip-path="url(#c1)"><rect x="15.0" y="90" width="4" height="1" fill="#52a6d6"/><rect x="20.0" y="89" width="4" height="2" fill="#52a6d6"/><rect x="30.0" y="90" width="4" height="1" fill="#52a6d6"/><rect x="40.0" y="88" width="4" height="3" fill="#52a6d6"/><rect x="45.0" y="88" width="4" height="3" fill="#52a6d6"/><rect x="50.0" y="88" width="4" height="3" fill="#52a6d6"/><rect x="55.0" y="89" width="4" height="2" fill="#52a6d6"/><rect x="60.0" y="90" width="4" height="3" fill="#52a6d6"/><rect x="65.0" y="90" width="4" height="7" fill="#52a6d6"/><rect x="70.0" y="90" width="4" height="10" fill="#52a6d6"/><rect x="75.0" y="90" width="4" height="12" fill="#52a6d6"/><rect x="80.0" y="90" width="4" height="13" fill="#52a6d6"/><rect x="85.0" y="90" width="4" height="13" fill="#52a6d6"/><rect x="90.0" y="90" width="4" height="14" fill="#52a6d6"/><rect x="95.0" y="90" width="4" height="13" fill="#52a6d6"/><rect x="100.0" y="90" width="4" height="10" fill="#52a6d6"/><rect x="105.0" y="90" width="4" height="6" fill="#52a6d6"/><rect x="110.0" y="90" width="4" height="6" fill="#52a6d6"/><rect x="115.0" y="90" width="4" height="4" fill="#52a6d6"/><rect x="125.0" y="88" width="4" height="3" fill="#52a6d6"/><rect x="130.0" y="85" width="4" height="6" fill="#52a6d6"/><rect x="135.0" y="82" width="4" height="9" fill="#52a6d6"/><rect x="140.0" y="83" width="4" height="8" fill="#52a6d6"/><rect x="145.0" y="81" width="4" height="10" fill="#52a6d6"/><rect x="150.0" y="80" width="4" height="11" fill="#52a6d6"/><rect x="155.0" y="82" width="4" height="9" fill="#52a6d6"/><rect x="160.0" y="86" width="4" height="5" fill="#52a6d6"/><rect x="165.0" y="87" width="4" height="4" fill="#52a6d6"/><rect x="170.0" y="90" width="4" height="1" fill="#52a6d6"/><rect x="175.0" y="90" width="4" height="1" fill="#52a6d6"/><rect x="185.0" y="90" width="4" height="2" fill="#52a6d6"/><rect x="190.0" y="90" width="4" height="4" fill="#52a6d6"/><rect x="195.0" y="90" width="4" height="5" fill="#52a6d6"/><rect x="200.0" y="90" width="4" height="5" fill="#52a6d6"/><rect x="205.0" y="90" width="4" height="5" fill="#52a6d6"/><rect x="210.0" y="90" width="4" height="4" fill="#52a6d6"/><rect x="215.0" y="90" width="4" height="5" fill="#52a6d6"/><rect x="220.0" y="90" width="4" height="5" fill="#52a6d6"/><rect x="225.0" y="90" width="4" height="3" fill="#52a6d6"/><rect x="230.0" y="89" width="4" height="2" fill="#52a6d6"/><rect x="235.0" y="85" width="4" height="6" fill="#52a6d6"/><rect x="240.0" y="81" width="4" height="10" fill="#52a6d6"/><rect x="245.0" y="81" width="4" height="10" fill="#52a6d6"/><rect x="250.0" y="79" width="4" height="12" fill="#52a6d6"/><rect x="255.0" y="79" width="4" height="12" fill="#52a6d6"/><rect x="260.0" y="79" width="4" height="12" fill="#52a6d6"/><rect x="265.0" y="83" width="4" height="8" fill="#52a6d6"/><rect x="270.0" y="85" width="4" height="6" fill="#52a6d6"/><rect x="275.0" y="87" width="4" height="4" fill="#52a6d6"/><rect x="285.0" y="90" width="4" height="3" fill="#52a6d6"/><rect x="290.0" y="90" width="4" height="4" fill="#52a6d6"/><rect x="295.0" y="90" width="4" height="2" fill="#52a6d6"/><rect x="300.0" y="90" width="4" height="2" fill="#52a6d6"/><rect x="305.0" y="90" width="4" height="4" fill="#52a6d6"/><rect x="310.0" y="90" width="4" height="2" fill="#52a6d6"/><rect x="315.0" y="90" width="4" height="2" fill="#52a6d6"/><rect x="320.0" y="90" width="4" height="1" fill="#52a6d6"/><rect x="325.0" y="89" width="4" height="2" fill="#52a6d6"/><rect x="330.0" y="90" width="4" height="1" fill="#52a6d6"/><rect x="335.0" y="90" width="4" height="1" fill="#52a6d6"/><rect x="340.0" y="90" width="4" height="4" fill="#52a6d6"/><rect x="345.0" y="90" width="4" height="2" fill="#52a6d6"/><rect x="350.0" y="90" width="4" height="2" fill="#52a6d6"/><rect x="355.0" y="90" width="4" height="4" fill="#52a6d6"/><rect x="360.0" y="90" width="4" height="3" fill="#52a6d6"/><rect x="365.0" y="90" width="4" height="2" fill="#52a6d6"/><rect x="370.0" y="86" width="4" height="5" fill="#52a6d6"/><rect x="375.0" y="82" width="4" height="9" fill="#52a6d6"/><rect x="380.0" y="78" width="4" height="13" fill="#52a6d6"/><rect x="385.0" y="76" width="4" height="15" fill="#52a6d6"/><rect x="390.0" y="76" width="4" height="15" fill="#52a6d6"/><rect x="395.0" y="74" width="4" height="17" fill="#52a6d6"/><rect x="400.0" y="75" width="4" height="16" fill="#52a6d6"/><rect x="405.0" y="73" width="4" height="18" fill="#52a6d6"/><rect x="410.0" y="73" width="4" height="18" fill="#52a6d6"/><rect x="415.0" y="70" width="4" height="21" fill="#52a6d6"/><rect x="420.0" y="69" width="4" height="22" fill="#52a6d6"/><rect x="425.0" y="68" width="4" height="23" fill="#52a6d6"/><rect x="430.0" y="68" width="4" height="23" fill="#52a6d6"/><rect x="435.0" y="71" width="4" height="20" fill="#52a6d6"/><rect x="440.0" y="75" width="4" height="16" fill="#52a6d6"/><rect x="445.0" y="79" width="4" height="12" fill="#52a6d6"/><rect x="450.0" y="82" width="4" height="9" fill="#52a6d6"/><rect x="455.0" y="84" width="4" height="7" fill="#52a6d6"/><rect x="460.0" y="86" width="4" height="5" fill="#52a6d6"/><rect x="470.0" y="90" width="4" height="2" fill="#52a6d6"/><rect x="475.0" y="90" width="4" height="5" fill="#52a6d6"/><rect x="480.0" y="90" width="4" height="4" fill="#52a6d6"/><rect x="485.0" y="90" width="4" height="6" fill="#52a6d6"/><rect x="490.0" y="90" width="4" height="10" fill="#52a6d6"/><rect x="495.0" y="90" width="4" height="12" fill="#52a6d6"/><rect x="500.0" y="90" width="4" height="14" fill="#52a6d6"/><rect x="505.0" y="90" width="4" height="15" fill="#52a6d6"/><rect x="510.0" y="90" width="4" height="15" fill="#52a6d6"/><rect x="515.0" y="90" width="4" height="10" fill="#52a6d6"/><rect x="520.0" y="90" width="4" height="3" fill="#52a6d6"/><rect x="525.0" y="90" width="4" height="1" fill="#52a6d6"/><rect x="530.0" y="88" width="4" height="3" fill="#52a6d6"/><rect x="535.0" y="88" width="4" height="3" fill="#52a6d6"/><rect x="540.0" y="87" width="4" height="4" fill="#52a6d6"/><rect x="545.0" y="85" width="4" height="6" fill="#52a6d6"/><rect x="550.0" y="83" width="4" height="8" fill="#52a6d6"/><rect x="555.0" y="81" width="4" height="10" fill="#52a6d6"/><rect x="560.0" y="81" width="4" height="10" fill="#52a6d6"/><rect x="565.0" y="83" width="4" height="8" fill="#52a6d6"/><path d="M14.5 91 V89.5 H19.5 V91 M19.5 91 V88.5 H24.5 V91 M24.0 90.5 H30.0 M29.5 91 V89.5 H34.5 V91 M34.0 90.5 H40.0 M39.5 91 V87.5 H44.5 V91 M44.5 91 V87.5 H49.5 V91 M49.5 91 V87.5 H54.5 V91 M54.5 91 V88.5 H59.5 V91 M59.5 90 V93.5 H64.5 V90 M64.5 90 V97.5 H69.5 V90 M69.5 90 V100.5 H74.5 V90 M74.5 90 V102.5 H79.5 V90 M79.5 90 V103.5 H84.5 V90 M84.5 90 V103.5 H89.5 V90 M89.5 90 V104.5 H94.5 V90 M94.5 90 V103.5 H99.5 V90 M99.5 90 V100.5 H104.5 V90 M104.5 90 V96.5 H109.5 V90 M109.5 90 V96.5 H114.5 V90 M114.5 90 V94.5 H119.5 V90 M119.0 90.5 H125.0 M124.5 91 V87.5 H129.5 V91 M129.5 91 V84.5 H134.5 V91 M134.5 91 V81.5 H139.5 V91 M139.5 91 V82.5 H144.5 V91 M144.5 91 V80.5 H149.5 V91 M149.5 91 V79.5 H154.5 V91 M154.5 91 V81.5 H159.5 V91 M159.5 91 V85.5 H164.5 V91 M164.5 91 V86.5 H169.5 V91 M169.5 91 V89.5 H174.5 V91 M174.5 91 V89.5 H179.5 V91 M179.0 90.5 H185.0 M184.5 90 V92.5 H189.5 V90 M189.5 90 V94.5 H194.5 V90 M194.5 90 V95.5 H199.5 V90 M199.5 90 V95.5 H204.5 V90 M204.5 90 V95.5 H209.5 V90 M209.5 90 V94.5 H214.5 V90 M214.5 90 V95.5 H219.5 V90 M219.5 90 V95.5 H224.5 V90 M224.5 90 V93.5 H229.5 V90 M229.5 91 V88.5 H234.5 V91 M234.5 91 V84.5 H239.5 V91 M239.5 91 V80.5 H244.5 V91 M244.5 91 V80.5 H249.5 V91 M249.5 91 V78.5 H254.5 V91 M254.5 91 V78.5 H259.5 V91 M259.5 91 V78.5 H264.5 V91 M264.5 91 V82.5 H269.5 V91 M269.5 91 V84.5 H274.5 V91 M274.5 91 V86.5 H279.5 V91 M279.0 90.5 H285.0 M284.5 90 V93.5 H289.5 V90 M289.5 90 V94.5 H294.5 V90 M294.5 90 V92.5 H299.5 V90 M299.5 90 V92.5 H304.5 V90 M304.5 90 V94.5 H309.5 V90 M309.5 90 V92.5 H314.5 V90 M314.5 90 V92.5 H319.5 V90 M319.5 90 V91.5 H324.5 V90 M324.5 91 V88.5 H329.5 V91 M329.5 91 V89.5 H334.5 V91 M334.5 91 V89.5 H339.5 V91 M339.5 90 V94.5 H344.5 V90 M344.5 90 V92.5 H349.5 V90 M349.5 90 V92.5 H354.5 V90 M354.5 90 V94.5 H359.5 V90 M359.5 90 V93.5 H364.5 V90 M364.5 90 V92.5 H369.5 V90 M369.5 91 V85.5 H374.5 V91 M374.5 91 V81.5 H379.5 V91 M379.5 91 V77.5 H384.5 V91 M384.5 91 V75.5 H389.5 V91 M389.5 91 V75.5 H394.5 V91 M394.5 91 V73.5 H399.5 V91 M399.5 91 V74.5 H404.5 V91 M404.5 91 V72.5 H409.5 V91 M409.5 91 V72.5 H414.5 V91 M414.5 91 V69.5 H419.5 V91 M419.5 91 V68.5 H424.5 V91 M424.5 91 V67.5 H429.5 V91 M429.5 91 V67.5 H434.5 V91 M434.5 91 V70.5 H439.5 V91 M439.5 91 V74.5 H444.5 V91 M444.5 91 V78.5 H449.5 V91 M449.5 91 V81.5 H454.5 V91 M454.5 91 V83.5 H459.5 V91 M459.5 91 V85.5 H464.5 V91 M464.0 90.5 H470.0 M469.5 90 V92.5 H474.5 V90 M474.5 90 V95.5 H479.5 V90 M479.5 90 V94.5 H484.5 V90 M484.5 90 V96.5 H489.5 V90 M489.5 90 V100.5 H494.5 V90 M494.5 90 V102.5 H499.5 V90 M499.5 90 V104.5 H504.5 V90 M504.5 90 V105.5 H509.5 V90 M509.5 90 V105.5 H514.5 V90 M514.5 90 V100.5 H519.5 V90 M519.5 90 V93.5 H524.5 V90 M524.5 91 V89.5 H529.5 V91 M529.5 91 V87.5 H534.5 V91 M534.5 91 V87.5 H539.5 V91 M539.5 91 V86.5 H544.5 V91 M544.5 91 V84.5 H549.5 V91 M549.5 91 V82.5 H554.5 V91 M554.5 91 V80.5 H559.5 V91 M559.5 91 V80.5 H564.5 V91 M564.5 91 V82.5 H569.5 V91" fill="none" stroke="#24559c"/><polyline points="16,110.6 26,110.6 36,110 46,108.6 56,107 62,107 70,111.4 80,117.4 88,123 96,128 106,132 116,134 126,134 132,132 140,128.6 148,125 157,120 166,118 180,117.6 188,118.6 196,121.4 206,123.4 216,125.4 226,128.4 232,127.4 242,123 254,116 264,111 272,107.6 280,106.6 288,108.6 300,110 312,111.4 324,112 336,111.4 348,113 358,114.6 366,115.4 374,113 380,109 388,104 396,97 404,90 412,82 420,72.6 428,64 436,56 444,50.6 452,47 460,44.6 468,44 476,45.6 484,48 492,52 500,57.4 508,63 512,65 520,67.6 528,67.4 536,66.4 544,64 552,61 560,57 566,54.6" fill="none" stroke="#ff1a1a" stroke-width="1.2" stroke-linejoin="round" shape-rendering="auto"/><polyline points="16,110 21,108 26,110 31,109 36,109 41,106.6 46,105.4 52,104.4 57,104.6 62,110 68,117 76,127 84,134 90,138 96,141 102,140 107,138.4 116,139.4 124,133 132,126 137,121 140,120.6 146,117 152,112.4 156,112.4 162,114.4 166,114.4 172,117.4 177,116.6 182,118 188,122 194,125.4 200,127.4 207,129 211,128.6 216,131 221,132 226,130.4 232,124 242,113 252,106 261,100.6 264,101 276,103.4 282,108 286,111.4 292,113.4 297,111.4 302,112.4 307,114.4 312,113.6 317,114.4 322,113 327,109.6 332,110.6 337,110.6 342,115 347,115 352,115.4 357,117 362,118 367,117 372,109 377,103 383,93 388,89.4 396,81.4 404,73 412,65 420,52 426,44 432,38 439,36.4 446,37.4 452,38.4 458,39 463,40.6 469,45 476,50 482,52 487,55.4 493,64 500,71 507,76.4 512,77.4 516,77 521,71.4 526,67.4 532,64.4 537,63.4 544,60 551,55.4 556,49.4 561,46.6 566,46.4" fill="none" stroke="#000" stroke-width="1.85" stroke-linejoin="round" shape-rendering="auto"/></g>
<g clip-path="url(#c2)"><line x1="16.5" x2="16.5" y1="235" y2="242" stroke="#d00030"/><rect x="14.0" y="237" width="5" height="3" fill="#d00030"/><line x1="21.5" x2="21.5" y1="205" y2="217" stroke="#000"/><line x1="21.5" x2="21.5" y1="235" y2="246" stroke="#000"/><rect x="19.5" y="217.5" width="4" height="17" fill="none" stroke="#000"/><line x1="26.5" x2="26.5" y1="211" y2="261" stroke="#d00030"/><rect x="24.0" y="214" width="5" height="35" fill="#d00030"/><line x1="31.5" x2="31.5" y1="230" y2="235" stroke="#000"/><line x1="31.5" x2="31.5" y1="251" y2="260" stroke="#000"/><rect x="29.5" y="235.5" width="4" height="15" fill="none" stroke="#000"/><line x1="36.5" x2="36.5" y1="219" y2="253" stroke="#d00030"/><rect x="34.0" y="237" width="5" height="7" fill="#d00030"/><line x1="41.5" x2="41.5" y1="199" y2="210" stroke="#000"/><line x1="41.5" x2="41.5" y1="246" y2="256" stroke="#000"/><rect x="39.5" y="210.5" width="4" height="35" fill="none" stroke="#000"/><line x1="46.5" x2="46.5" y1="205" y2="238" stroke="#d00030"/><rect x="44.0" y="208" width="5" height="23" fill="#d00030"/><line x1="51.5" x2="51.5" y1="222" y2="227" stroke="#000"/><line x1="51.5" x2="51.5" y1="232" y2="253" stroke="#000"/><rect x="49.5" y="227.5" width="4" height="4" fill="none" stroke="#000"/><line x1="56.5" x2="56.5" y1="213" y2="252" stroke="#d00030"/><rect x="54.0" y="227" width="5" height="16" fill="#d00030"/><line x1="61.5" x2="61.5" y1="250" y2="306" stroke="#d00030"/><rect x="59.0" y="252" width="5" height="42" fill="#d00030"/><line x1="66.5" x2="66.5" y1="283" y2="320" stroke="#d00030"/><rect x="64.0" y="295" width="5" height="12" fill="#d00030"/><line x1="71.5" x2="71.5" y1="295" y2="326" stroke="#d00030"/><rect x="69.0" y="306" width="5" height="14" fill="#d00030"/><line x1="76.5" x2="76.5" y1="317" y2="340" stroke="#d00030"/><rect x="74.0" y="319" width="5" height="9" fill="#d00030"/><line x1="81.5" x2="81.5" y1="303" y2="330" stroke="#d00030"/><line x1="81.5" x2="81.5" y1="333" y2="336" stroke="#d00030"/><rect x="79.5" y="330.5" width="4" height="2" fill="none" stroke="#d00030"/><line x1="86.5" x2="86.5" y1="305" y2="343" stroke="#d00030"/><rect x="84.0" y="331" width="5" height="8" fill="#d00030"/><line x1="91.5" x2="91.5" y1="332" y2="358" stroke="#d00030"/><rect x="89.0" y="338" width="5" height="18" fill="#d00030"/><line x1="96.5" x2="96.5" y1="342" y2="366" stroke="#000"/><rect x="94.0" y="349" width="5" height="1" fill="#000"/><line x1="101.5" x2="101.5" y1="324" y2="338" stroke="#000"/><line x1="101.5" x2="101.5" y1="351" y2="352" stroke="#000"/><rect x="99.5" y="338.5" width="4" height="12" fill="none" stroke="#000"/><line x1="106.5" x2="106.5" y1="302" y2="320" stroke="#000"/><line x1="106.5" x2="106.5" y1="333" y2="340" stroke="#000"/><rect x="104.5" y="320.5" width="4" height="12" fill="none" stroke="#000"/><line x1="111.5" x2="111.5" y1="322" y2="365" stroke="#d00030"/><rect x="109.0" y="323" width="5" height="38" fill="#d00030"/><line x1="116.5" x2="116.5" y1="343" y2="346" stroke="#000"/><line x1="116.5" x2="116.5" y1="367" y2="376" stroke="#000"/><rect x="114.5" y="346.5" width="4" height="20" fill="none" stroke="#000"/><line x1="121.5" x2="121.5" y1="305" y2="313" stroke="#000"/><line x1="121.5" x2="121.5" y1="343" y2="358" stroke="#000"/><rect x="119.5" y="313.5" width="4" height="29" fill="none" stroke="#000"/><line x1="126.5" x2="126.5" y1="304" y2="338" stroke="#d00030"/><rect x="124.0" y="305" width="5" height="17" fill="#d00030"/><line x1="131.5" x2="131.5" y1="294" y2="309" stroke="#000"/><line x1="131.5" x2="131.5" y1="330" y2="337" stroke="#000"/><rect x="129.5" y="309.5" width="4" height="20" fill="none" stroke="#000"/><line x1="136.5" x2="136.5" y1="289" y2="302" stroke="#000"/><line x1="136.5" x2="136.5" y1="313" y2="320" stroke="#000"/><rect x="134.5" y="302.5" width="4" height="10" fill="none" stroke="#000"/><line x1="141.5" x2="141.5" y1="304" y2="338" stroke="#d00030"/><rect x="139.0" y="307" width="5" height="18" fill="#d00030"/><line x1="146.5" x2="146.5" y1="329" y2="332" stroke="#000"/><rect x="144.5" y="294.5" width="4" height="34" fill="none" stroke="#000"/><line x1="151.5" x2="151.5" y1="281" y2="328" stroke="#d00030"/><rect x="149.0" y="295" width="5" height="11" fill="#d00030"/><line x1="156.5" x2="156.5" y1="309" y2="331" stroke="#d00030"/><rect x="154.0" y="311" width="5" height="15" fill="#d00030"/><line x1="161.5" x2="161.5" y1="326" y2="360" stroke="#d00030"/><rect x="159.0" y="327" width="5" height="22" fill="#d00030"/><line x1="166.5" x2="166.5" y1="329" y2="339" stroke="#000"/><line x1="166.5" x2="166.5" y1="353" y2="359" stroke="#000"/><rect x="164.5" y="339.5" width="4" height="13" fill="none" stroke="#000"/><line x1="171.5" x2="171.5" y1="347" y2="380" stroke="#d00030"/><rect x="169.0" y="348" width="5" height="20" fill="#d00030"/><line x1="176.5" x2="176.5" y1="333" y2="341" stroke="#000"/><rect x="174.5" y="341.5" width="4" height="26" fill="none" stroke="#000"/><line x1="181.5" x2="181.5" y1="327" y2="365" stroke="#d00030"/><rect x="179.0" y="345" width="5" height="12" fill="#d00030"/><line x1="186.5" x2="186.5" y1="349" y2="381" stroke="#d00030"/><rect x="184.0" y="361" width="5" height="16" fill="#d00030"/><line x1="191.5" x2="191.5" y1="372" y2="404" stroke="#d00030"/><rect x="189.0" y="374" width="5" height="23" fill="#d00030"/><line x1="196.5" x2="196.5" y1="379" y2="394" stroke="#000"/><line x1="196.5" x2="196.5" y1="401" y2="412" stroke="#000"/><rect x="194.5" y="394.5" width="4" height="6" fill="none" stroke="#000"/><line x1="201.5" x2="201.5" y1="371" y2="387" stroke="#000"/><line x1="201.5" x2="201.5" y1="402" y2="407" stroke="#000"/><rect x="199.5" y="387.5" width="4" height="14" fill="none" stroke="#000"/><line x1="206.5" x2="206.5" y1="370" y2="408" stroke="#d00030"/><rect x="204.0" y="385" width="5" height="18" fill="#d00030"/><line x1="211.5" x2="211.5" y1="379" y2="392" stroke="#000"/><line x1="211.5" x2="211.5" y1="409" y2="418" stroke="#000"/><rect x="209.5" y="392.5" width="4" height="16" fill="none" stroke="#000"/><line x1="216.5" x2="216.5" y1="381" y2="428" stroke="#d00030"/><rect x="214.0" y="391" width="5" height="26" fill="#d00030"/><line x1="221.5" x2="221.5" y1="393" y2="424" stroke="#d00030"/><rect x="219.0" y="418" width="5" height="3" fill="#d00030"/><line x1="226.5" x2="226.5" y1="393" y2="396" stroke="#000"/><line x1="226.5" x2="226.5" y1="420" y2="427" stroke="#000"/><rect x="224.5" y="396.5" width="4" height="23" fill="none" stroke="#000"/><line x1="231.5" x2="231.5" y1="358" y2="365" stroke="#000"/><line x1="231.5" x2="231.5" y1="396" y2="413" stroke="#000"/><rect x="229.5" y="365.5" width="4" height="30" fill="none" stroke="#000"/><line x1="236.5" x2="236.5" y1="347" y2="353" stroke="#000"/><line x1="236.5" x2="236.5" y1="362" y2="380" stroke="#000"/><rect x="234.5" y="353.5" width="4" height="8" fill="none" stroke="#000"/><line x1="241.5" x2="241.5" y1="336" y2="338" stroke="#000"/><line x1="241.5" x2="241.5" y1="361" y2="367" stroke="#000"/><rect x="239.5" y="338.5" width="4" height="22" fill="none" stroke="#000"/><line x1="246.5" x2="246.5" y1="332" y2="374" stroke="#d00030"/><rect x="244.0" y="340" width="5" height="28" fill="#d00030"/><line x1="251.5" x2="251.5" y1="342" y2="345" stroke="#000"/><line x1="251.5" x2="251.5" y1="371" y2="376" stroke="#000"/><rect x="249.5" y="345.5" width="4" height="25" fill="none" stroke="#000"/><line x1="256.5" x2="256.5" y1="342" y2="370" stroke="#d00030"/><rect x="254.0" y="344" width="5" height="9" fill="#d00030"/><line x1="261.5" x2="261.5" y1="319" y2="346" stroke="#000"/><line x1="261.5" x2="261.5" y1="360" y2="362" stroke="#000"/><rect x="259.5" y="346.5" width="4" height="13" fill="none" stroke="#000"/><line x1="266.5" x2="266.5" y1="342" y2="389" stroke="#d00030"/><rect x="264.0" y="344" width="5" height="36" fill="#d00030"/><line x1="271.5" x2="271.5" y1="366" y2="394" stroke="#d00030"/><rect x="269.0" y="372" width="5" height="10" fill="#d00030"/><line x1="276.5" x2="276.5" y1="367" y2="395" stroke="#000"/><rect x="274.0" y="379" width="5" height="1" fill="#000"/><line x1="281.5" x2="281.5" y1="381" y2="428" stroke="#d00030"/><rect x="279.0" y="389" width="5" height="32" fill="#d00030"/><line x1="286.5" x2="286.5" y1="407" y2="421" stroke="#d00030"/><line x1="286.5" x2="286.5" y1="424" y2="427" stroke="#d00030"/><rect x="284.5" y="421.5" width="4" height="2" fill="none" stroke="#d00030"/><line x1="291.5" x2="291.5" y1="410" y2="418" stroke="#000"/><line x1="291.5" x2="291.5" y1="428" y2="437" stroke="#000"/><rect x="289.5" y="418.5" width="4" height="9" fill="none" stroke="#000"/><line x1="296.5" x2="296.5" y1="379" y2="383" stroke="#000"/><line x1="296.5" x2="296.5" y1="420" y2="428" stroke="#000"/><rect x="294.5" y="383.5" width="4" height="36" fill="none" stroke="#000"/><line x1="301.5" x2="301.5" y1="385" y2="416" stroke="#d00030"/><rect x="299.0" y="390" width="5" height="21" fill="#d00030"/><line x1="306.5" x2="306.5" y1="405" y2="443" stroke="#d00030"/><rect x="304.0" y="411" width="5" height="20" fill="#d00030"/><line x1="311.5" x2="311.5" y1="387" y2="406" stroke="#000"/><line x1="311.5" x2="311.5" y1="436" y2="437" stroke="#000"/><rect x="309.5" y="406.5" width="4" height="29" fill="none" stroke="#000"/><line x1="316.5" x2="316.5" y1="405" y2="430" stroke="#d00030"/><rect x="314.0" y="409" width="5" height="12" fill="#d00030"/><line x1="321.5" x2="321.5" y1="391" y2="406" stroke="#000"/><line x1="321.5" x2="321.5" y1="418" y2="419" stroke="#000"/><rect x="319.5" y="406.5" width="4" height="11" fill="none" stroke="#000"/><line x1="326.5" x2="326.5" y1="372" y2="388" stroke="#000"/><line x1="326.5" x2="326.5" y1="410" y2="412" stroke="#000"/><rect x="324.5" y="388.5" width="4" height="21" fill="none" stroke="#000"/><line x1="331.5" x2="331.5" y1="388" y2="427" stroke="#d00030"/><rect x="329.0" y="388" width="5" height="30" fill="#d00030"/><line x1="336.5" x2="336.5" y1="397" y2="424" stroke="#000"/><rect x="334.0" y="412" width="5" height="5" fill="#000"/><line x1="341.5" x2="341.5" y1="417" y2="470" stroke="#d00030"/><rect x="339.0" y="421" width="5" height="48" fill="#d00030"/><line x1="346.5" x2="346.5" y1="390" y2="424" stroke="#000"/><line x1="346.5" x2="346.5" y1="438" y2="439" stroke="#000"/><rect x="344.5" y="424.5" width="4" height="13" fill="none" stroke="#000"/><line x1="351.5" x2="351.5" y1="426" y2="454" stroke="#d00030"/><rect x="349.0" y="435" width="5" height="1" fill="#d00030"/><line x1="356.5" x2="356.5" y1="418" y2="467" stroke="#d00030"/><rect x="354.0" y="440" width="5" height="19" fill="#d00030"/><line x1="361.5" x2="361.5" y1="442" y2="444" stroke="#000"/><line x1="361.5" x2="361.5" y1="459" y2="461" stroke="#000"/><rect x="359.5" y="444.5" width="4" height="14" fill="none" stroke="#000"/><line x1="366.5" x2="366.5" y1="437" y2="440" stroke="#000"/><line x1="366.5" x2="366.5" y1="452" y2="463" stroke="#000"/><rect x="364.5" y="440.5" width="4" height="11" fill="none" stroke="#000"/><line x1="371.5" x2="371.5" y1="369" y2="378" stroke="#000"/><line x1="371.5" x2="371.5" y1="437" y2="448" stroke="#000"/><rect x="369.5" y="378.5" width="4" height="58" fill="none" stroke="#000"/><line x1="376.5" x2="376.5" y1="354" y2="398" stroke="#d00030"/><rect x="374.0" y="378" width="5" height="2" fill="#d00030"/><line x1="381.5" x2="381.5" y1="347" y2="353" stroke="#000"/><line x1="381.5" x2="381.5" y1="381" y2="395" stroke="#000"/><rect x="379.5" y="353.5" width="4" height="27" fill="none" stroke="#000"/><line x1="386.5" x2="386.5" y1="346" y2="376" stroke="#d00030"/><rect x="384.0" y="349" width="5" height="18" fill="#d00030"/><line x1="391.5" x2="391.5" y1="353" y2="365" stroke="#000"/><line x1="391.5" x2="391.5" y1="368" y2="374" stroke="#000"/><rect x="389.5" y="365.5" width="4" height="2" fill="none" stroke="#000"/><line x1="396.5" x2="396.5" y1="324" y2="335" stroke="#000"/><line x1="396.5" x2="396.5" y1="365" y2="372" stroke="#000"/><rect x="394.5" y="335.5" width="4" height="29" fill="none" stroke="#000"/><line x1="401.5" x2="401.5" y1="331" y2="352" stroke="#d00030"/><rect x="399.0" y="344" width="5" height="2" fill="#d00030"/><line x1="406.5" x2="406.5" y1="303" y2="312" stroke="#000"/><line x1="406.5" x2="406.5" y1="346" y2="348" stroke="#000"/><rect x="404.5" y="312.5" width="4" height="33" fill="none" stroke="#000"/><line x1="411.5" x2="411.5" y1="306" y2="332" stroke="#d00030"/><rect x="409.0" y="312" width="5" height="4" fill="#d00030"/><line x1="416.5" x2="416.5" y1="255" y2="267" stroke="#000"/><line x1="416.5" x2="416.5" y1="313" y2="314" stroke="#000"/><rect x="414.5" y="267.5" width="4" height="45" fill="none" stroke="#000"/><line x1="421.5" x2="421.5" y1="244" y2="266" stroke="#000"/><line x1="421.5" x2="421.5" y1="268" y2="287" stroke="#000"/><rect x="419.5" y="266.5" width="4" height="1" fill="none" stroke="#000"/><line x1="426.5" x2="426.5" y1="244" y2="248" stroke="#000"/><line x1="426.5" x2="426.5" y1="258" y2="276" stroke="#000"/><rect x="424.5" y="248.5" width="4" height="9" fill="none" stroke="#000"/><line x1="431.5" x2="431.5" y1="227" y2="236" stroke="#000"/><line x1="431.5" x2="431.5" y1="250" y2="261" stroke="#000"/><rect x="429.5" y="236.5" width="4" height="13" fill="none" stroke="#000"/><line x1="436.5" x2="436.5" y1="231" y2="267" stroke="#d00030"/><rect x="434.0" y="238" width="5" height="20" fill="#d00030"/><line x1="441.5" x2="441.5" y1="256" y2="281" stroke="#d00030"/><rect x="439.0" y="258" width="5" height="3" fill="#d00030"/><line x1="446.5" x2="446.5" y1="259" y2="278" stroke="#d00030"/><rect x="444.0" y="272" width="5" height="1" fill="#d00030"/><line x1="451.5" x2="451.5" y1="255" y2="260" stroke="#000"/><line x1="451.5" x2="451.5" y1="269" y2="290" stroke="#000"/><rect x="449.5" y="260.5" width="4" height="8" fill="none" stroke="#000"/><line x1="456.5" x2="456.5" y1="239" y2="257" stroke="#000"/><line x1="456.5" x2="456.5" y1="260" y2="263" stroke="#000"/><rect x="454.5" y="257.5" width="4" height="2" fill="none" stroke="#000"/><line x1="461.5" x2="461.5" y1="251" y2="255" stroke="#000"/><line x1="461.5" x2="461.5" y1="259" y2="286" stroke="#000"/><rect x="459.5" y="255.5" width="4" height="3" fill="none" stroke="#000"/><line x1="466.5" x2="466.5" y1="241" y2="294" stroke="#d00030"/><rect x="464.0" y="258" width="5" height="22" fill="#d00030"/><line x1="471.5" x2="471.5" y1="268" y2="273" stroke="#000"/><line x1="471.5" x2="471.5" y1="288" y2="304" stroke="#000"/><rect x="469.5" y="273.5" width="4" height="14" fill="none" stroke="#000"/><line x1="476.5" x2="476.5" y1="252" y2="288" stroke="#d00030"/><rect x="474.0" y="271" width="5" height="11" fill="#d00030"/><line x1="481.5" x2="481.5" y1="248" y2="255" stroke="#000"/><line x1="481.5" x2="481.5" y1="288" y2="292" stroke="#000"/><rect x="479.5" y="255.5" width="4" height="32" fill="none" stroke="#000"/><line x1="486.5" x2="486.5" y1="241" y2="289" stroke="#d00030"/><rect x="484.0" y="253" width="5" height="30" fill="#d00030"/><line x1="491.5" x2="491.5" y1="282" y2="321" stroke="#d00030"/><rect x="489.0" y="282" width="5" height="27" fill="#d00030"/><line x1="496.5" x2="496.5" y1="290" y2="323" stroke="#000"/><rect x="494.0" y="303" width="5" height="4" fill="#000"/><line x1="501.5" x2="501.5" y1="299" y2="332" stroke="#d00030"/><rect x="499.0" y="301" width="5" height="17" fill="#d00030"/><line x1="506.5" x2="506.5" y1="307" y2="328" stroke="#d00030"/><rect x="504.0" y="321" width="5" height="1" fill="#d00030"/><line x1="511.5" x2="511.5" y1="285" y2="295" stroke="#000"/><line x1="511.5" x2="511.5" y1="322" y2="323" stroke="#000"/><rect x="509.5" y="295.5" width="4" height="26" fill="none" stroke="#000"/><line x1="516.5" x2="516.5" y1="269" y2="283" stroke="#000"/><line x1="516.5" x2="516.5" y1="310" y2="313" stroke="#000"/><rect x="514.5" y="283.5" width="4" height="26" fill="none" stroke="#000"/><line x1="521.5" x2="521.5" y1="227" y2="232" stroke="#000"/><line x1="521.5" x2="521.5" y1="276" y2="280" stroke="#000"/><rect x="519.5" y="232.5" width="4" height="43" fill="none" stroke="#000"/><line x1="526.5" x2="526.5" y1="206" y2="231" stroke="#000"/><line x1="526.5" x2="526.5" y1="238" y2="244" stroke="#000"/><rect x="524.5" y="231.5" width="4" height="6" fill="none" stroke="#000"/><line x1="531.5" x2="531.5" y1="222" y2="250" stroke="#d00030"/><rect x="529.0" y="230" width="5" height="7" fill="#d00030"/><line x1="536.5" x2="536.5" y1="235" y2="251" stroke="#d00030"/><rect x="534.0" y="239" width="5" height="4" fill="#d00030"/><line x1="541.5" x2="541.5" y1="216" y2="225" stroke="#000"/><line x1="541.5" x2="541.5" y1="243" y2="248" stroke="#000"/><rect x="539.5" y="225.5" width="4" height="17" fill="none" stroke="#000"/><line x1="546.5" x2="546.5" y1="204" y2="211" stroke="#000"/><line x1="546.5" x2="546.5" y1="222" y2="232" stroke="#000"/><rect x="544.5" y="211.5" width="4" height="10" fill="none" stroke="#000"/><line x1="551.5" x2="551.5" y1="192" y2="200" stroke="#000"/><line x1="551.5" x2="551.5" y1="216" y2="221" stroke="#000"/><rect x="549.5" y="200.5" width="4" height="15" fill="none" stroke="#000"/><line x1="556.5" x2="556.5" y1="169" y2="170" stroke="#000"/><line x1="556.5" x2="556.5" y1="198" y2="205" stroke="#000"/><rect x="554.5" y="170.5" width="4" height="27" fill="none" stroke="#000"/><line x1="561.5" x2="561.5" y1="167" y2="187" stroke="#d00030"/><rect x="559.0" y="168" width="5" height="19" fill="#d00030"/><line x1="566.5" x2="566.5" y1="174" y2="199" stroke="#d00030"/><rect x="564.0" y="183" width="5" height="14" fill="#d00030"/><polyline points="391,148.5 400,152 408,157 416,163 428,170 436,173.6 446,179.6 456,185 468,188.6 477,191.6 488,196.4 500,201 510,206 522,210 534,214.4 546,219 556,221.6 567,226.4" fill="none" stroke="#ff0000" stroke-width="1.2" stroke-linejoin="round" shape-rendering="auto"/><polyline points="49,193.6 56,196.5 60,198.4 70,205 80,212 92,224 106,235 118,245 130,252 142,257.6 147,258.4 160,264.4 172,273 181,278 190,282 200,287 208,293.6 222,305 230,310 242,318 252,323 264,328.6 279,338 295,349 307,358 321,364 335,368 345,372.4 357,378 367,381 380,384 390,386.4 401,388.4 412,387 430,380 452,369 472,357 486,351.6 496,349 512,347 518,344.4 530,337 546,325 556,317 567,306.4" fill="none" stroke="#14148c" stroke-width="1.2" stroke-linejoin="round" shape-rendering="auto"/></g>
<path d="M547.5 151.5 H573.5 V161.5 H566.0 L561.5 166 L557.0 161.5 H547.5 Z" fill="#fff" stroke="#d8d8d8" shape-rendering="auto"/>
<text filter="url(#crisp)" x="548.6" y="160.1" font-family="Liberation Sans, Arial, sans-serif" font-size="9.9" textLength="22.8" lengthAdjust="spacing">79.53</text>
<path d="M417.5 211.5 H443.5 V221.5 H436.0 L431.5 226 L427.0 221.5 H417.5 Z" fill="#fff" stroke="#d8d8d8" shape-rendering="auto"/>
<text filter="url(#crisp)" x="418.6" y="220.1" font-family="Liberation Sans, Arial, sans-serif" font-size="9.9" textLength="22.8" lengthAdjust="spacing">78.45</text>
<path d="M137.5 265.5 H163.5 V275.5 H156.0 L151.5 280 L147.0 275.5 H137.5 Z" fill="#fff" stroke="#d8d8d8" shape-rendering="auto"/>
<text filter="url(#crisp)" x="138.6" y="274.1" font-family="Liberation Sans, Arial, sans-serif" font-size="9.9" textLength="22.8" lengthAdjust="spacing">77.47</text>
<path d="M247.5 303.5 H274.5 V313.5 H266.0 L261.5 318 L257.0 313.5 H247.5 Z" fill="#fff" stroke="#d8d8d8" shape-rendering="auto"/>
<text filter="url(#crisp)" x="248.6" y="312.1" font-family="Liberation Sans, Arial, sans-serif" font-size="9.9" textLength="22.8" lengthAdjust="spacing">76.82</text>
<path d="M102.5 381.5 H112.0 L116.5 377 L121.0 381.5 H128.5 V391.5 H102.5 Z" fill="#fff" stroke="#d8d8d8" shape-rendering="auto"/>
<text filter="url(#crisp)" x="103.6" y="390.1" font-family="Liberation Sans, Arial, sans-serif" font-size="9.9" textLength="22.8" lengthAdjust="spacing">75.83</text>
<path d="M202.5 433.5 H212.0 L216.5 428.5 L221.0 433.5 H228.5 V443.5 H202.5 Z" fill="#fff" stroke="#d8d8d8" shape-rendering="auto"/>
<text filter="url(#crisp)" x="203.6" y="442.1" font-family="Liberation Sans, Arial, sans-serif" font-size="9.9" textLength="22.8" lengthAdjust="spacing">74.94</text>
<path d="M327.5 475.5 H337.0 L341.5 470.5 L346.0 475.5 H353.5 V485.5 H327.5 Z" fill="#fff" stroke="#d8d8d8" shape-rendering="auto"/>
<text filter="url(#crisp)" x="328.6" y="484.1" font-family="Liberation Sans, Arial, sans-serif" font-size="9.9" textLength="22.8" lengthAdjust="spacing">74.23</text>
<path d="M487.5 337.5 H497.0 L501.5 332.5 L506.0 337.5 H512.5 V347.5 H487.5 Z" fill="#fff" stroke="#d8d8d8" shape-rendering="auto"/>
<text filter="url(#crisp)" x="488.6" y="346.1" font-family="Liberation Sans, Arial, sans-serif" font-size="9.9" textLength="22.8" lengthAdjust="spacing">76.60</text>
<g clip-path="url(#c3)"><polyline points="16.5,547 21.5,543 26.5,529.6 31.5,539 36.5,542.6 41.5,523.6 46.5,530 51.5,538 56.5,537 61.5,511 66.5,512 71.5,523 76.5,541 81.5,547.4 86.5,547.4 91.5,561 96.5,575 101.5,584.4 106.5,581.6 111.5,571.4 116.5,575 121.5,555.4 126.5,559 131.5,553.6 136.5,560 141.5,561 146.5,559 151.5,550.4 156.5,563 161.5,566.6 166.5,574 171.5,570.4 176.5,572.4 181.5,570.4 186.5,575 191.5,580 196.5,584 201.5,584.4 206.5,583 211.5,580 216.5,570.4 221.5,578.4 226.5,580 231.5,562.4 236.5,567 241.5,573.4 246.5,568.4 251.5,571.4 256.5,580.4 261.5,569 266.5,561.6 271.5,572 276.5,581 281.5,568.4 286.5,587 291.5,597.4 296.5,582 301.5,586.4 306.5,585.6 311.5,571.4 316.5,582 321.5,590 326.5,585.6 331.5,582.4 336.5,592.4 341.5,574.4 346.5,531 351.5,542 356.5,532.4 361.5,553.6 366.5,568 371.5,525.4 376.5,521 381.5,514.4 386.5,527 391.5,546.4 396.5,536 401.5,556.4 406.5,549 411.5,562.4 416.5,535.6 421.5,530 426.5,538 431.5,541 436.5,544.4 441.5,558 446.5,578 451.5,579.6 456.5,591.4 461.5,591.4 466.5,571.4 471.5,571.4 476.5,571 481.5,562.4 486.5,550.4 491.5,548.4 496.5,554 501.5,560.2 506.5,578 511.5,576 516.5,568.4 521.5,546.4 526.5,544.4 531.5,554.4 536.5,575 541.5,579.6 546.5,588 551.5,593 556.5,591.6 561.5,606 566.5,615" fill="none" stroke="#000" stroke-width="1.85" stroke-linejoin="round" shape-rendering="auto"/></g>
<rect x="17" y="30" width="205" height="12" fill="#fff"/>
<rect x="19" y="35" width="9" height="2" fill="#000"/>
<text filter="url(#crisp)" x="31.5" y="39.6" font-family="DejaVu Sans, Verdana, sans-serif" font-size="9.6" textLength="190" lengthAdjust="spacing">PPO(12,26,9) 0.712<tspan fill="#ff0000">, 0.581</tspan><tspan fill="#3399cc">, 0.131</tspan></text>
<rect x="17" y="149" width="123" height="11" fill="#fff"/>
<rect x="17" y="160" width="73" height="11" fill="#fff"/>
<rect x="17" y="171" width="78" height="11" fill="#fff"/>
<rect x="17" y="182" width="77" height="11" fill="#fff"/>
<g fill="#000"><rect x="20" y="151" width="1" height="8"/><rect x="19" y="152" width="3" height="5"/><rect x="20" y="153" width="1" height="2" fill="#fff"/><rect x="22" y="154" width="3" height="5"/><rect x="26" y="151" width="1" height="8"/><rect x="25" y="152" width="3" height="6"/><rect x="26" y="153" width="1" height="4" fill="#fff"/></g>
<text filter="url(#crisp)" x="32.5" y="158.5" font-family="DejaVu Sans, Verdana, sans-serif" font-size="9.6" textLength="105" lengthAdjust="spacing">$USD (Daily) 79.00</text>
<rect x="19" y="166" width="9" height="2" fill="#14148c"/>
<text filter="url(#crisp)" x="29.3" y="169.5" font-family="DejaVu Sans, Verdana, sans-serif" font-size="9.6" fill="#14148c" textLength="59" lengthAdjust="spacing">MA(50) 77.03</text>
<rect x="19" y="177" width="9" height="2" fill="#ff0000"/>
<text filter="url(#crisp)" x="29.3" y="180.5" font-family="DejaVu Sans, Verdana, sans-serif" font-size="9.6" fill="#ff0000" textLength="63.8" lengthAdjust="spacing">MA(200) 78.46</text>
<g fill="#a0a0a0" stroke="#484848"><rect x="19.5" y="186.5" width="2" height="4"/><rect x="22.5" y="183.5" width="2" height="7"/><rect x="25.5" y="185.5" width="2" height="5"/></g>
<text filter="url(#crisp)" x="29.6" y="191" font-family="DejaVu Sans, Verdana, sans-serif" font-size="9.6" fill="#606060" textLength="62" lengthAdjust="spacing">Volume undef</text>
<rect x="17" y="504" width="97" height="12" fill="#fff"/>
<rect x="19" y="509" width="9" height="2" fill="#000"/>
<text filter="url(#crisp)" x="31" y="513.8" font-family="DejaVu Sans, Verdana, sans-serif" font-size="9.6" textLength="81" lengthAdjust="spacing">ATR(14) 0.576</text>
<rect x="16.5" y="29.5" width="557.0" height="119.0" fill="none" stroke="#b8b8b8"/>
<rect x="16.5" y="148.5" width="557.0" height="340.0" fill="none" stroke="#b8b8b8"/>
<rect x="16.5" y="503.5" width="557.0" height="119.0" fill="none" stroke="#b8b8b8"/>
<text filter="url(#crisp)" x="600.8" y="48.0" font-family="DejaVu Sans, Verdana, sans-serif" font-size="9.6" text-anchor="end">0.75</text>
<line x1="571.5" x2="576.5" y1="44.5" y2="44.5" stroke="#b8b8b8"/>
<text filter="url(#crisp)" x="600.8" y="63.0" font-family="DejaVu Sans, Verdana, sans-serif" font-size="9.6" text-anchor="end">0.50</text>
<line x1="571.5" x2="576.5" y1="59.5" y2="59.5" stroke="#b8b8b8"/>
<text filter="url(#crisp)" x="600.8" y="79.0" font-family="DejaVu Sans, Verdana, sans-serif" font-size="9.6" text-anchor="end">0.25</text>
<line x1="571.5" x2="576.5" y1="75.5" y2="75.5" stroke="#b8b8b8"/>
<text filter="url(#crisp)" x="600.8" y="94.0" font-family="DejaVu Sans, Verdana, sans-serif" font-size="9.6" text-anchor="end">0.00</text>
<line x1="571.5" x2="576.5" y1="90.5" y2="90.5" stroke="#b8b8b8"/>
<text filter="url(#crisp)" x="600.8" y="109.0" font-family="DejaVu Sans, Verdana, sans-serif" font-size="9.6" text-anchor="end">-0.25</text>
<line x1="571.5" x2="576.5" y1="105.5" y2="105.5" stroke="#b8b8b8"/>
<text filter="url(#crisp)" x="600.8" y="125.0" font-family="DejaVu Sans, Verdana, sans-serif" font-size="9.6" text-anchor="end">-0.50</text>
<line x1="571.5" x2="576.5" y1="121.5" y2="121.5" stroke="#b8b8b8"/>
<text filter="url(#crisp)" x="600.8" y="140.0" font-family="DejaVu Sans, Verdana, sans-serif" font-size="9.6" text-anchor="end">-0.75</text>
<line x1="571.5" x2="576.5" y1="136.5" y2="136.5" stroke="#b8b8b8"/>
<text filter="url(#crisp)" x="576.6" y="486.0" font-family="DejaVu Sans, Verdana, sans-serif" font-size="9.6">74.0</text>
<line x1="571.5" x2="576.5" y1="482.5" y2="482.5" stroke="#b8b8b8"/>
<text filter="url(#crisp)" x="576.6" y="456.0" font-family="DejaVu Sans, Verdana, sans-serif" font-size="9.6">74.5</text>
<line x1="571.5" x2="576.5" y1="452.5" y2="452.5" stroke="#b8b8b8"/>
<text filter="url(#crisp)" x="576.6" y="427.0" font-family="DejaVu Sans, Verdana, sans-serif" font-size="9.6">75.0</text>
<line x1="571.5" x2="576.5" y1="423.5" y2="423.5" stroke="#b8b8b8"/>
<text filter="url(#crisp)" x="576.6" y="398.0" font-family="DejaVu Sans, Verdana, sans-serif" font-size="9.6">75.5</text>
<line x1="571.5" x2="576.5" y1="394.5" y2="394.5" stroke="#b8b8b8"/>
<text filter="url(#crisp)" x="576.6" y="369.0" font-family="DejaVu Sans, Verdana, sans-serif" font-size="9.6">76.0</text>
<line x1="571.5" x2="576.5" y1="365.5" y2="365.5" stroke="#b8b8b8"/>
<text filter="url(#crisp)" x="576.6" y="341.0" font-family="DejaVu Sans, Verdana, sans-serif" font-size="9.6">76.5</text>
<line x1="571.5" x2="576.5" y1="337.5" y2="337.5" stroke="#b8b8b8"/>
<text filter="url(#crisp)" x="576.6" y="312.0" font-family="DejaVu Sans, Verdana, sans-serif" font-size="9.6">77.0</text>
<line x1="571.5" x2="576.5" y1="308.5" y2="308.5" stroke="#b8b8b8"/>
<text filter="url(#crisp)" x="576.6" y="284.0" font-family="DejaVu Sans, Verdana, sans-serif" font-size="9.6">77.5</text>
<line x1="571.5" x2="576.5" y1="280.5" y2="280.5" stroke="#b8b8b8"/>
<text filter="url(#crisp)" x="576.6" y="256.0" font-family="DejaVu Sans, Verdana, sans-serif" font-size="9.6">78.0</text>
<line x1="571.5" x2="576.5" y1="252.5" y2="252.5" stroke="#b8b8b8"/>
<text filter="url(#crisp)" x="576.6" y="228.0" font-family="DejaVu Sans, Verdana, sans-serif" font-size="9.6">78.5</text>
<line x1="571.5" x2="576.5" y1="224.5" y2="224.5" stroke="#b8b8b8"/>
<text filter="url(#crisp)" x="576.6" y="200.0" font-family="DejaVu Sans, Verdana, sans-serif" font-size="9.6">79.0</text>
<line x1="571.5" x2="576.5" y1="196.5" y2="196.5" stroke="#b8b8b8"/>
<text filter="url(#crisp)" x="576.6" y="172.0" font-family="DejaVu Sans, Verdana, sans-serif" font-size="9.6">79.5</text>
<line x1="571.5" x2="576.5" y1="168.5" y2="168.5" stroke="#b8b8b8"/>
<line x1="573.5" x2="575.5" y1="482.5" y2="482.5" stroke="#b8b8b8"/>
<line x1="573.5" x2="575.5" y1="476.5" y2="476.5" stroke="#b8b8b8"/>
<line x1="573.5" x2="575.5" y1="470.5" y2="470.5" stroke="#b8b8b8"/>
<line x1="573.5" x2="575.5" y1="465.5" y2="465.5" stroke="#b8b8b8"/>
<line x1="573.5" x2="575.5" y1="459.5" y2="459.5" stroke="#b8b8b8"/>
<line x1="573.5" x2="575.5" y1="453.5" y2="453.5" stroke="#b8b8b8"/>
<line x1="573.5" x2="575.5" y1="447.5" y2="447.5" stroke="#b8b8b8"/>
<line x1="573.5" x2="575.5" y1="441.5" y2="441.5" stroke="#b8b8b8"/>
<line x1="573.5" x2="575.5" y1="435.5" y2="435.5" stroke="#b8b8b8"/>
<line x1="573.5" x2="575.5" y1="429.5" y2="429.5" stroke="#b8b8b8"/>
<line x1="573.5" x2="575.5" y1="424.5" y2="424.5" stroke="#b8b8b8"/>
<line x1="573.5" x2="575.5" y1="418.5" y2="418.5" stroke="#b8b8b8"/>
<line x1="573.5" x2="575.5" y1="412.5" y2="412.5" stroke="#b8b8b8"/>
<line x1="573.5" x2="575.5" y1="406.5" y2="406.5" stroke="#b8b8b8"/>
<line x1="573.5" x2="575.5" y1="400.5" y2="400.5" stroke="#b8b8b8"/>
<line x1="573.5" x2="575.5" y1="395.5" y2="395.5" stroke="#b8b8b8"/>
<line x1="573.5" x2="575.5" y1="389.5" y2="389.5" stroke="#b8b8b8"/>
<line x1="573.5" x2="575.5" y1="383.5" y2="383.5" stroke="#b8b8b8"/>
<line x1="573.5" x2="575.5" y1="377.5" y2="377.5" stroke="#b8b8b8"/>
<line x1="573.5" x2="575.5" y1="371.5" y2="371.5" stroke="#b8b8b8"/>
<line x1="573.5" x2="575.5" y1="366.5" y2="366.5" stroke="#b8b8b8"/>
<line x1="573.5" x2="575.5" y1="360.5" y2="360.5" stroke="#b8b8b8"/>
<line x1="573.5" x2="575.5" y1="354.5" y2="354.5" stroke="#b8b8b8"/>
<line x1="573.5" x2="575.5" y1="348.5" y2="348.5" stroke="#b8b8b8"/>
<line x1="573.5" x2="575.5" y1="343.5" y2="343.5" stroke="#b8b8b8"/>
<line x1="573.5" x2="575.5" y1="337.5" y2="337.5" stroke="#b8b8b8"/>
<line x1="573.5" x2="575.5" y1="331.5" y2="331.5" stroke="#b8b8b8"/>
<line x1="573.5" x2="575.5" y1="326.5" y2="326.5" stroke="#b8b8b8"/>
<line x1="573.5" x2="575.5" y1="320.5" y2="320.5" stroke="#b8b8b8"/>
<line x1="573.5" x2="575.5" y1="314.5" y2="314.5" stroke="#b8b8b8"/>
<line x1="573.5" x2="575.5" y1="309.5" y2="309.5" stroke="#b8b8b8"/>
<line x1="573.5" x2="575.5" y1="303.5" y2="303.5" stroke="#b8b8b8"/>
<line x1="573.5" x2="575.5" y1="297.5" y2="297.5" stroke="#b8b8b8"/>
<line x1="573.5" x2="575.5" y1="292.5" y2="292.5" stroke="#b8b8b8"/>
<line x1="573.5" x2="575.5" y1="286.5" y2="286.5" stroke="#b8b8b8"/>
<line x1="573.5" x2="575.5" y1="280.5" y2="280.5" stroke="#b8b8b8"/>
<line x1="573.5" x2="575.5" y1="275.5" y2="275.5" stroke="#b8b8b8"/>
<line x1="573.5" x2="575.5" y1="269.5" y2="269.5" stroke="#b8b8b8"/>
<line x1="573.5" x2="575.5" y1="263.5" y2="263.5" stroke="#b8b8b8"/>
<line x1="573.5" x2="575.5" y1="258.5" y2="258.5" stroke="#b8b8b8"/>
<line x1="573.5" x2="575.5" y1="252.5" y2="252.5" stroke="#b8b8b8"/>
<line x1="573.5" x2="575.5" y1="247.5" y2="247.5" stroke="#b8b8b8"/>
<line x1="573.5" x2="575.5" y1="241.5" y2="241.5" stroke="#b8b8b8"/>
<line x1="573.5" x2="575.5" y1="235.5" y2="235.5" stroke="#b8b8b8"/>
<line x1="573.5" x2="575.5" y1="230.5" y2="230.5" stroke="#b8b8b8"/>
<line x1="573.5" x2="575.5" y1="224.5" y2="224.5" stroke="#b8b8b8"/>
<line x1="573.5" x2="575.5" y1="219.5" y2="219.5" stroke="#b8b8b8"/>
<line x1="573.5" x2="575.5" y1="213.5" y2="213.5" stroke="#b8b8b8"/>
<line x1="573.5" x2="575.5" y1="208.5" y2="208.5" stroke="#b8b8b8"/>
<line x1="573.5" x2="575.5" y1="202.5" y2="202.5" stroke="#b8b8b8"/>
<line x1="573.5" x2="575.5" y1="197.5" y2="197.5" stroke="#b8b8b8"/>
<line x1="573.5" x2="575.5" y1="191.5" y2="191.5" stroke="#b8b8b8"/>
<line x1="573.5" x2="575.5" y1="185.5" y2="185.5" stroke="#b8b8b8"/>
<line x1="573.5" x2="575.5" y1="180.5" y2="180.5" stroke="#b8b8b8"/>
<line x1="573.5" x2="575.5" y1="174.5" y2="174.5" stroke="#b8b8b8"/>
<line x1="573.5" x2="575.5" y1="169.5" y2="169.5" stroke="#b8b8b8"/>
<line x1="573.5" x2="575.5" y1="163.5" y2="163.5" stroke="#b8b8b8"/>
<line x1="573.5" x2="575.5" y1="158.5" y2="158.5" stroke="#b8b8b8"/>
<line x1="573.5" x2="575.5" y1="152.5" y2="152.5" stroke="#b8b8b8"/>
<line x1="573.5" x2="575.5" y1="616.5" y2="616.5" stroke="#b8b8b8"/>
<line x1="573.5" x2="575.5" y1="612.5" y2="612.5" stroke="#b8b8b8"/>
<line x1="573.5" x2="575.5" y1="607.5" y2="607.5" stroke="#b8b8b8"/>
<line x1="573.5" x2="575.5" y1="603.5" y2="603.5" stroke="#b8b8b8"/>
<line x1="573.5" x2="575.5" y1="599.5" y2="599.5" stroke="#b8b8b8"/>
<line x1="573.5" x2="575.5" y1="594.5" y2="594.5" stroke="#b8b8b8"/>
<line x1="573.5" x2="575.5" y1="590.5" y2="590.5" stroke="#b8b8b8"/>
<line x1="573.5" x2="575.5" y1="586.5" y2="586.5" stroke="#b8b8b8"/>
<line x1="573.5" x2="575.5" y1="582.5" y2="582.5" stroke="#b8b8b8"/>
<line x1="573.5" x2="575.5" y1="577.5" y2="577.5" stroke="#b8b8b8"/>
<line x1="573.5" x2="575.5" y1="573.5" y2="573.5" stroke="#b8b8b8"/>
<line x1="573.5" x2="575.5" y1="569.5" y2="569.5" stroke="#b8b8b8"/>
<line x1="573.5" x2="575.5" y1="564.5" y2="564.5" stroke="#b8b8b8"/>
<line x1="573.5" x2="575.5" y1="560.5" y2="560.5" stroke="#b8b8b8"/>
<line x1="573.5" x2="575.5" y1="556.5" y2="556.5" stroke="#b8b8b8"/>
<line x1="573.5" x2="575.5" y1="552.5" y2="552.5" stroke="#b8b8b8"/>
<line x1="573.5" x2="575.5" y1="547.5" y2="547.5" stroke="#b8b8b8"/>
<line x1="573.5" x2="575.5" y1="543.5" y2="543.5" stroke="#b8b8b8"/>
<line x1="573.5" x2="575.5" y1="539.5" y2="539.5" stroke="#b8b8b8"/>
<line x1="573.5" x2="575.5" y1="534.5" y2="534.5" stroke="#b8b8b8"/>
<line x1="573.5" x2="575.5" y1="530.5" y2="530.5" stroke="#b8b8b8"/>
<line x1="573.5" x2="575.5" y1="526.5" y2="526.5" stroke="#b8b8b8"/>
<line x1="573.5" x2="575.5" y1="522.5" y2="522.5" stroke="#b8b8b8"/>
<line x1="573.5" x2="575.5" y1="517.5" y2="517.5" stroke="#b8b8b8"/>
<line x1="573.5" x2="575.5" y1="513.5" y2="513.5" stroke="#b8b8b8"/>
<line x1="573.5" x2="575.5" y1="509.5" y2="509.5" stroke="#b8b8b8"/>
<line x1="573.5" x2="575.5" y1="505.5" y2="505.5" stroke="#b8b8b8"/>
<text filter="url(#crisp)" x="576.6" y="620.0" font-family="DejaVu Sans, Verdana, sans-serif" font-size="9.6">0.575</text>
<line x1="571.5" x2="576.5" y1="616.5" y2="616.5" stroke="#b8b8b8"/>
<text filter="url(#crisp)" x="576.6" y="598.0" font-family="DejaVu Sans, Verdana, sans-serif" font-size="9.6">0.600</text>
<line x1="571.5" x2="576.5" y1="594.5" y2="594.5" stroke="#b8b8b8"/>
<text filter="url(#crisp)" x="576.6" y="577.0" font-family="DejaVu Sans, Verdana, sans-serif" font-size="9.6">0.625</text>
<line x1="571.5" x2="576.5" y1="573.5" y2="573.5" stroke="#b8b8b8"/>
<text filter="url(#crisp)" x="576.6" y="556.0" font-family="DejaVu Sans, Verdana, sans-serif" font-size="9.6">0.650</text>
<line x1="571.5" x2="576.5" y1="552.5" y2="552.5" stroke="#b8b8b8"/>
<text filter="url(#crisp)" x="576.6" y="534.0" font-family="DejaVu Sans, Verdana, sans-serif" font-size="9.6">0.675</text>
<line x1="571.5" x2="576.5" y1="530.5" y2="530.5" stroke="#b8b8b8"/>
<text filter="url(#crisp)" x="576.6" y="513.0" font-family="DejaVu Sans, Verdana, sans-serif" font-size="9.6">0.700</text>
<line x1="571.5" x2="576.5" y1="509.5" y2="509.5" stroke="#b8b8b8"/>
<text filter="url(#crisp)" x="41.5" y="499.5" font-family="Liberation Sans, Arial, sans-serif" font-size="11" font-weight="bold" text-anchor="middle">Sep</text>
<text filter="url(#crisp)" x="61.5" y="499.5" font-family="Liberation Sans, Arial, sans-serif" font-size="10" text-anchor="middle">8</text>
<text filter="url(#crisp)" x="81.5" y="499.5" font-family="Liberation Sans, Arial, sans-serif" font-size="10" text-anchor="middle">14</text>
<text filter="url(#crisp)" x="106.5" y="499.5" font-family="Liberation Sans, Arial, sans-serif" font-size="10" text-anchor="middle">21</text>
<text filter="url(#crisp)" x="131.5" y="499.5" font-family="Liberation Sans, Arial, sans-serif" font-size="10" text-anchor="middle">28</text>
<text filter="url(#crisp)" x="146.5" y="499.5" font-family="Liberation Sans, Arial, sans-serif" font-size="11" font-weight="bold" text-anchor="middle">Oct</text>
<text filter="url(#crisp)" x="181.5" y="499.5" font-family="Liberation Sans, Arial, sans-serif" font-size="10" text-anchor="middle">12</text>
<text filter="url(#crisp)" x="206.5" y="499.5" font-family="Liberation Sans, Arial, sans-serif" font-size="10" text-anchor="middle">19</text>
<text filter="url(#crisp)" x="231.5" y="499.5" font-family="Liberation Sans, Arial, sans-serif" font-size="10" text-anchor="middle">26</text>
<text filter="url(#crisp)" x="256.5" y="499.5" font-family="Liberation Sans, Arial, sans-serif" font-size="11" font-weight="bold" text-anchor="middle">Nov</text>
<text filter="url(#crisp)" x="281.5" y="499.5" font-family="Liberation Sans, Arial, sans-serif" font-size="10" text-anchor="middle">9</text>
<text filter="url(#crisp)" x="306.5" y="499.5" font-family="Liberation Sans, Arial, sans-serif" font-size="10" text-anchor="middle">16</text>
<text filter="url(#crisp)" x="331.5" y="499.5" font-family="Liberation Sans, Arial, sans-serif" font-size="10" text-anchor="middle">23</text>
<text filter="url(#crisp)" x="356.5" y="499.5" font-family="Liberation Sans, Arial, sans-serif" font-size="11" font-weight="bold" text-anchor="middle">Dec</text>
<text filter="url(#crisp)" x="376.5" y="499.5" font-family="Liberation Sans, Arial, sans-serif" font-size="10" text-anchor="middle">7</text>
<text filter="url(#crisp)" x="401.5" y="499.5" font-family="Liberation Sans, Arial, sans-serif" font-size="10" text-anchor="middle">14</text>
<text filter="url(#crisp)" x="426.5" y="499.5" font-family="Liberation Sans, Arial, sans-serif" font-size="10" text-anchor="middle">21</text>
<text filter="url(#crisp)" x="446.5" y="499.5" font-family="Liberation Sans, Arial, sans-serif" font-size="10" text-anchor="middle">28</text>
<text filter="url(#crisp)" x="466.5" y="499.5" font-family="Liberation Sans, Arial, sans-serif" font-size="11" font-weight="bold" text-anchor="middle">2010</text>
<text filter="url(#crisp)" x="491.5" y="499.5" font-family="Liberation Sans, Arial, sans-serif" font-size="10" text-anchor="middle">11</text>
<text filter="url(#crisp)" x="516.5" y="499.5" font-family="Liberation Sans, Arial, sans-serif" font-size="10" text-anchor="middle">19</text>
<text filter="url(#crisp)" x="536.5" y="499.5" font-family="Liberation Sans, Arial, sans-serif" font-size="10" text-anchor="middle">25</text>
<text filter="url(#crisp)" x="561.5" y="499.5" font-family="Liberation Sans, Arial, sans-serif" font-size="11" font-weight="bold" text-anchor="middle">Feb</text>
<text filter="url(#crisp)" x="41.5" y="634" font-family="Liberation Sans, Arial, sans-serif" font-size="11" font-weight="bold" text-anchor="middle">Sep</text>
<text filter="url(#crisp)" x="61.5" y="634" font-family="Liberation Sans, Arial, sans-serif" font-size="10" text-anchor="middle">8</text>
<text filter="url(#crisp)" x="81.5" y="634" font-family="Liberation Sans, Arial, sans-serif" font-size="10" text-anchor="middle">14</text>
<text filter="url(#crisp)" x="106.5" y="634" font-family="Liberation Sans, Arial, sans-serif" font-size="10" text-anchor="middle">21</text>
<text filter="url(#crisp)" x="131.5" y="634" font-family="Liberation Sans, Arial, sans-serif" font-size="10" text-anchor="middle">28</text>
<text filter="url(#crisp)" x="146.5" y="634" font-family="Liberation Sans, Arial, sans-serif" font-size="11" font-weight="bold" text-anchor="middle">Oct</text>
<text filter="url(#crisp)" x="181.5" y="634" font-family="Liberation Sans, Arial, sans-serif" font-size="10" text-anchor="middle">12</text>
<text filter="url(#crisp)" x="206.5" y="634" font-family="Liberation Sans, Arial, sans-serif" font-size="10" text-anchor="middle">19</text>
<text filter="url(#crisp)" x="231.5" y="634" font-family="Liberation Sans, Arial, sans-serif" font-size="10" text-anchor="middle">26</text>
<text filter="url(#crisp)" x="256.5" y="634" font-family="Liberation Sans, Arial, sans-serif" font-size="11" font-weight="bold" text-anchor="middle">Nov</text>
<text filter="url(#crisp)" x="281.5" y="634" font-family="Liberation Sans, Arial, sans-serif" font-size="10" text-anchor="middle">9</text>
<text filter="url(#crisp)" x="306.5" y="634" font-family="Liberation Sans, Arial, sans-serif" font-size="10" text-anchor="middle">16</text>
<text filter="url(#crisp)" x="331.5" y="634" font-family="Liberation Sans, Arial, sans-serif" font-size="10" text-anchor="middle">23</text>
<text filter="url(#crisp)" x="356.5" y="634" font-family="Liberation Sans, Arial, sans-serif" font-size="11" font-weight="bold" text-anchor="middle">Dec</text>
<text filter="url(#crisp)" x="376.5" y="634" font-family="Liberation Sans, Arial, sans-serif" font-size="10" text-anchor="middle">7</text>
<text filter="url(#crisp)" x="401.5" y="634" font-family="Liberation Sans, Arial, sans-serif" font-size="10" text-anchor="middle">14</text>
<text filter="url(#crisp)" x="426.5" y="634" font-family="Liberation Sans, Arial, sans-serif" font-size="10" text-anchor="middle">21</text>
<text filter="url(#crisp)" x="446.5" y="634" font-family="Liberation Sans, Arial, sans-serif" font-size="10" text-anchor="middle">28</text>
<text filter="url(#crisp)" x="466.5" y="634" font-family="Liberation Sans, Arial, sans-serif" font-size="11" font-weight="bold" text-anchor="middle">2010</text>
<text filter="url(#crisp)" x="491.5" y="634" font-family="Liberation Sans, Arial, sans-serif" font-size="10" text-anchor="middle">11</text>
<text filter="url(#crisp)" x="516.5" y="634" font-family="Liberation Sans, Arial, sans-serif" font-size="10" text-anchor="middle">19</text>
<text filter="url(#crisp)" x="536.5" y="634" font-family="Liberation Sans, Arial, sans-serif" font-size="10" text-anchor="middle">25</text>
<text filter="url(#crisp)" x="561.5" y="634" font-family="Liberation Sans, Arial, sans-serif" font-size="11" font-weight="bold" text-anchor="middle">Feb</text>
</svg></body></html>
